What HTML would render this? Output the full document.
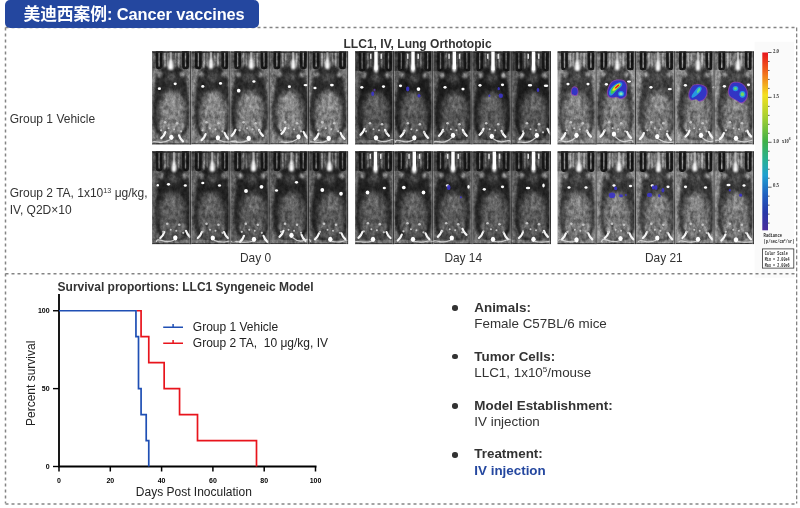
<!DOCTYPE html>
<html lang="zh"><head><meta charset="utf-8"><title>Cancer vaccines</title>
<style>
html,body{margin:0;padding:0;background:#fff;}
body{width:800px;height:508px;position:relative;overflow:hidden;font-family:"Liberation Sans","Noto Sans CJK SC",sans-serif;color:#333;}
.abs{position:absolute;white-space:nowrap;line-height:1;}
#tab{left:5px;top:0;width:254px;height:27.5px;background:#24479f;border-radius:5px;}
#tabt{left:23.5px;top:5.6px;color:#fff;font-weight:bold;font-size:16.8px;letter-spacing:-0.1px;}
svg.main{position:absolute;left:0;top:0;}
.tk{font:bold 7px "Liberation Sans",sans-serif;fill:#000;}
.cbt{font:bold 5.6px "Liberation Serif",serif;fill:#333;}
.cbs{font:bold 5.4px "Liberation Mono",monospace;fill:#2a2a2a;}
.lab{font-size:12px;color:#333;}
.b{font-weight:bold;}
sup{font-size:60%;vertical-align:baseline;position:relative;top:-0.62em;}
.dot{position:absolute;width:5.6px;height:5.6px;border-radius:50%;background:#333;}
</style></head><body>
<svg class="main" width="800" height="508" viewBox="0 0 800 508">
<defs>
<filter id="b05" x="-30%" y="-30%" width="160%" height="160%"><feGaussianBlur stdDeviation="0.55"/></filter>
<filter id="b07" x="-40%" y="-40%" width="180%" height="180%"><feGaussianBlur stdDeviation="0.7"/></filter>
<filter id="b08" x="-50%" y="-30%" width="200%" height="160%"><feGaussianBlur stdDeviation="0.75"/></filter>
<filter id="b1" x="-50%" y="-30%" width="200%" height="160%"><feGaussianBlur stdDeviation="1"/></filter>
<filter id="b15" x="-30%" y="-30%" width="160%" height="160%"><feGaussianBlur stdDeviation="1.3"/></filter>
<filter id="b2" x="-30%" y="-30%" width="160%" height="160%"><feGaussianBlur stdDeviation="1.6"/></filter>
<filter id="b3" x="-50%" y="-50%" width="200%" height="200%"><feGaussianBlur stdDeviation="2.6"/></filter>
<filter id="noiseO" x="0" y="0" width="100%" height="100%" color-interpolation-filters="sRGB"><feTurbulence type="fractalNoise" baseFrequency="0.3 0.22" numOctaves="3" seed="3" result="t"/><feColorMatrix in="t" type="matrix" values="0.55 0 0 0 0.215  0.55 0 0 0 0.215  0.55 0 0 0 0.215  0 0 0 0 1"/><feGaussianBlur stdDeviation="0.4"/></filter>
<linearGradient id="cb" x1="0" y1="0" x2="0" y2="1">
<stop offset="0" stop-color="#e8141c"/><stop offset="0.1" stop-color="#f0601a"/><stop offset="0.24" stop-color="#f4e020"/>
<stop offset="0.36" stop-color="#a8d030"/><stop offset="0.5" stop-color="#40b048"/><stop offset="0.6" stop-color="#28b090"/><stop offset="0.69" stop-color="#20a0d0"/>
<stop offset="0.8" stop-color="#2060c0"/><stop offset="0.9" stop-color="#2838a8"/><stop offset="1" stop-color="#4a2c9c"/>
</linearGradient>
</defs>
<rect x="754.6" y="41.8" width="39.4" height="236" fill="#fafafa"/>
<rect x="762.3" y="52.5" width="5.7" height="177.8" fill="url(#cb)"/>
<path d="M768 52.5 h3.6" stroke="#222" stroke-width="0.7"/>
<path d="M768 61.48 h1.6" stroke="#222" stroke-width="0.7"/>
<path d="M768 70.46 h1.6" stroke="#222" stroke-width="0.7"/>
<path d="M768 79.44 h1.6" stroke="#222" stroke-width="0.7"/>
<path d="M768 88.42 h1.6" stroke="#222" stroke-width="0.7"/>
<path d="M768 97.4 h3.6" stroke="#222" stroke-width="0.7"/>
<path d="M768 106.38 h1.6" stroke="#222" stroke-width="0.7"/>
<path d="M768 115.36 h1.6" stroke="#222" stroke-width="0.7"/>
<path d="M768 124.34 h1.6" stroke="#222" stroke-width="0.7"/>
<path d="M768 133.32 h1.6" stroke="#222" stroke-width="0.7"/>
<path d="M768 142.3 h3.6" stroke="#222" stroke-width="0.7"/>
<path d="M768 151.28 h1.6" stroke="#222" stroke-width="0.7"/>
<path d="M768 160.26 h1.6" stroke="#222" stroke-width="0.7"/>
<path d="M768 169.24 h1.6" stroke="#222" stroke-width="0.7"/>
<path d="M768 178.22 h1.6" stroke="#222" stroke-width="0.7"/>
<path d="M768 187.2 h3.6" stroke="#222" stroke-width="0.7"/>
<path d="M768 196.18 h1.6" stroke="#222" stroke-width="0.7"/>
<path d="M768 205.16 h1.6" stroke="#222" stroke-width="0.7"/>
<path d="M768 214.14 h1.6" stroke="#222" stroke-width="0.7"/>
<path d="M768 223.12 h1.6" stroke="#222" stroke-width="0.7"/>
<text x="773" y="52.7" class="cbt" textLength="6" lengthAdjust="spacingAndGlyphs">2.0</text>
<text x="773" y="97.6" class="cbt" textLength="6" lengthAdjust="spacingAndGlyphs">1.5</text>
<text x="773" y="142.5" class="cbt" textLength="6" lengthAdjust="spacingAndGlyphs">1.0</text>
<text x="773" y="187.4" class="cbt" textLength="6" lengthAdjust="spacingAndGlyphs">0.5</text>
<text x="782" y="142.9" class="cbt" textLength="8.6" lengthAdjust="spacingAndGlyphs">x10<tspan dy="-2.6" font-size="4.6">6</tspan></text>
<text x="763.6" y="237.2" class="cbs" textLength="18.4" lengthAdjust="spacingAndGlyphs">Radiance</text>
<text x="763.6" y="243" class="cbs" textLength="31" lengthAdjust="spacingAndGlyphs">(p/sec/cm<tspan dy="-1.6" font-size="3.6">2</tspan><tspan dy="1.6">/sr)</tspan></text>
<rect x="762.6" y="248.9" width="31.2" height="19.2" fill="#fff" stroke="#333" stroke-width="0.8"/>
<text x="764.8" y="254.9" class="cbs" textLength="23" lengthAdjust="spacingAndGlyphs">Color Scale</text>
<text x="764.8" y="260.8" class="cbs" textLength="24.8" lengthAdjust="spacingAndGlyphs">Min = 2.00e4</text>
<text x="764.8" y="266.7" class="cbs" textLength="24.8" lengthAdjust="spacingAndGlyphs">Max = 2.00e6</text>
<!-- borders -->
<g fill="none" stroke-dasharray="3 3">
<path d="M5.5 27.6 H796.5 M5.5 273.8 H796.5 M5.5 27.6 V503.5" stroke="#848484" stroke-width="1.5"/>
<path d="M5.5 504 H796.5" stroke="#a4a4a4" stroke-width="2"/>
<path d="M796.7 27.6 V503.5" stroke="#6e6e6e" stroke-width="1.1" stroke-dasharray="3.6 2.4"/>
</g>
<svg x="152" y="51.3" width="196.3" height="93.3" overflow="hidden">
<svg x="0" y="0" width="39.26" height="93.3" overflow="hidden">
<rect width="39.26" height="93.3" fill="#7a7a7a"/>
<rect width="39.26" height="17.3" fill="#5a5a5a"/>
<rect x="12" y="1" width="1.8" height="15.8" fill="#989898"/>
<rect x="15.2" y="1" width="1.4" height="15.8" fill="#808080"/>
<rect x="22.8" y="1" width="1.4" height="15.8" fill="#808080"/>
<rect x="25.8" y="1" width="1.8" height="15.8" fill="#989898"/>
<rect x="3.7" y="-4" width="6.8" height="21.9" rx="2.4" fill="#161616"/>
<rect x="6.4" y="1" width="1.4" height="14.5" rx="0.7" fill="#8e8e8e" opacity="0.85"/>
<rect x="30.1" y="-4" width="6.8" height="21.9" rx="2.4" fill="#161616"/>
<rect x="32.8" y="1" width="1.4" height="14.5" rx="0.7" fill="#8e8e8e" opacity="0.85"/>
<path d="M19.15 14.5 C29.15 14.5 33.16 18 34.66 29 C35.66 42 37.64 50 37.64 66 C37.64 80 31.15 89 19.15 89 C7.15 89 0.67 80 0.67 66 C0.67 50 2.65 42 3.65 29 C5.15 18 9.15 14.5 19.15 14.5Z" fill="#2c2c2c" filter="url(#b15)"/>
<g filter="url(#b3)">
<ellipse cx="20.42" cy="61" rx="13.5" ry="22" fill="#808080"/>
<ellipse cx="19.15" cy="26" rx="5" ry="4" fill="#5a5a5a"/>
</g>
<g filter="url(#b15)" fill="#929292" opacity="0.8">
<ellipse cx="10.15" cy="75" rx="4" ry="5"/>
<ellipse cx="28.15" cy="75" rx="4" ry="5"/>
<ellipse cx="20.42" cy="52" rx="6" ry="9"/>
<ellipse cx="19.15" cy="83" rx="11" ry="4.5" opacity="0.7"/>
</g>
<g filter="url(#b1)" fill="#9a9a9a">
<ellipse cx="7.65" cy="23" rx="2.3" ry="3"/>
<ellipse cx="30.65" cy="23" rx="2.3" ry="3"/>
</g>
<rect y="88.8" width="39.26" height="3.2" fill="#858585" opacity="0.5"/>
<rect y="92" width="39.26" height="1.3" fill="#3c3c3c"/>
<rect width="39.26" height="1.4" fill="#242424"/>
</svg>
<svg x="39.26" y="0" width="39.26" height="93.3" overflow="hidden">
<rect width="39.26" height="93.3" fill="#7a7a7a"/>
<rect width="39.26" height="17.3" fill="#5a5a5a"/>
<rect x="12" y="1" width="1.8" height="15.8" fill="#989898"/>
<rect x="15.2" y="1" width="1.4" height="15.8" fill="#808080"/>
<rect x="22.8" y="1" width="1.4" height="15.8" fill="#808080"/>
<rect x="25.8" y="1" width="1.8" height="15.8" fill="#989898"/>
<rect x="3.7" y="-4" width="6.8" height="21.9" rx="2.4" fill="#161616"/>
<rect x="6.4" y="1" width="1.4" height="14.5" rx="0.7" fill="#8e8e8e" opacity="0.85"/>
<rect x="30.1" y="-4" width="6.8" height="21.9" rx="2.4" fill="#161616"/>
<rect x="32.8" y="1" width="1.4" height="14.5" rx="0.7" fill="#8e8e8e" opacity="0.85"/>
<path d="M21.26 14.5 C31.26 14.5 35.26 18 36.76 29 C37.76 42 39.31 50 39.31 66 C39.31 80 33.26 89 21.26 89 C9.26 89 3.21 80 3.21 66 C3.21 50 4.76 42 5.76 29 C7.26 18 11.26 14.5 21.26 14.5Z" fill="#2c2c2c" filter="url(#b15)"/>
<g filter="url(#b3)">
<ellipse cx="22.37" cy="61" rx="13.5" ry="22" fill="#808080"/>
<ellipse cx="21.26" cy="26" rx="5" ry="4" fill="#5a5a5a"/>
</g>
<g filter="url(#b15)" fill="#929292" opacity="0.8">
<ellipse cx="12.26" cy="75" rx="4" ry="5"/>
<ellipse cx="30.26" cy="75" rx="4" ry="5"/>
<ellipse cx="22.37" cy="52" rx="6" ry="9"/>
<ellipse cx="21.26" cy="83" rx="11" ry="4.5" opacity="0.7"/>
</g>
<g filter="url(#b1)" fill="#9a9a9a">
<ellipse cx="9.76" cy="23" rx="2.3" ry="3"/>
<ellipse cx="32.76" cy="23" rx="2.3" ry="3"/>
</g>
<rect y="88.8" width="39.26" height="3.2" fill="#858585" opacity="0.5"/>
<rect y="92" width="39.26" height="1.3" fill="#3c3c3c"/>
<rect width="39.26" height="1.4" fill="#242424"/>
</svg>
<svg x="78.52" y="0" width="39.26" height="93.3" overflow="hidden">
<rect width="39.26" height="93.3" fill="#7a7a7a"/>
<rect width="39.26" height="17.3" fill="#5a5a5a"/>
<rect x="12" y="1" width="1.8" height="15.8" fill="#989898"/>
<rect x="15.2" y="1" width="1.4" height="15.8" fill="#808080"/>
<rect x="22.8" y="1" width="1.4" height="15.8" fill="#808080"/>
<rect x="25.8" y="1" width="1.8" height="15.8" fill="#989898"/>
<rect x="3.7" y="-4" width="6.8" height="21.9" rx="2.4" fill="#161616"/>
<rect x="6.4" y="1" width="1.4" height="14.5" rx="0.7" fill="#8e8e8e" opacity="0.85"/>
<rect x="30.1" y="-4" width="6.8" height="21.9" rx="2.4" fill="#161616"/>
<rect x="32.8" y="1" width="1.4" height="14.5" rx="0.7" fill="#8e8e8e" opacity="0.85"/>
<path d="M19.09 14.5 C29.09 14.5 33.09 18 34.59 29 C35.59 42 37.79 50 37.79 66 C37.79 80 31.09 89 19.09 89 C7.09 89 0.39 80 0.39 66 C0.39 50 2.59 42 3.59 29 C5.09 18 9.09 14.5 19.09 14.5Z" fill="#2c2c2c" filter="url(#b15)"/>
<g filter="url(#b3)">
<ellipse cx="19.89" cy="61" rx="13.5" ry="22" fill="#808080"/>
<ellipse cx="19.09" cy="26" rx="5" ry="4" fill="#5a5a5a"/>
</g>
<g filter="url(#b15)" fill="#929292" opacity="0.8">
<ellipse cx="10.09" cy="75" rx="4" ry="5"/>
<ellipse cx="28.09" cy="75" rx="4" ry="5"/>
<ellipse cx="19.89" cy="52" rx="6" ry="9"/>
<ellipse cx="19.09" cy="83" rx="11" ry="4.5" opacity="0.7"/>
</g>
<g filter="url(#b1)" fill="#9a9a9a">
<ellipse cx="7.59" cy="23" rx="2.3" ry="3"/>
<ellipse cx="30.59" cy="23" rx="2.3" ry="3"/>
</g>
<rect y="88.8" width="39.26" height="3.2" fill="#858585" opacity="0.5"/>
<rect y="92" width="39.26" height="1.3" fill="#3c3c3c"/>
<rect width="39.26" height="1.4" fill="#242424"/>
</svg>
<svg x="117.78" y="0" width="39.26" height="93.3" overflow="hidden">
<rect width="39.26" height="93.3" fill="#7a7a7a"/>
<rect width="39.26" height="17.3" fill="#5a5a5a"/>
<rect x="12" y="1" width="1.8" height="15.8" fill="#989898"/>
<rect x="15.2" y="1" width="1.4" height="15.8" fill="#808080"/>
<rect x="22.8" y="1" width="1.4" height="15.8" fill="#808080"/>
<rect x="25.8" y="1" width="1.8" height="15.8" fill="#989898"/>
<rect x="3.7" y="-4" width="6.8" height="21.9" rx="2.4" fill="#161616"/>
<rect x="6.4" y="1" width="1.4" height="14.5" rx="0.7" fill="#8e8e8e" opacity="0.85"/>
<rect x="30.1" y="-4" width="6.8" height="21.9" rx="2.4" fill="#161616"/>
<rect x="32.8" y="1" width="1.4" height="14.5" rx="0.7" fill="#8e8e8e" opacity="0.85"/>
<path d="M21.26 14.5 C31.26 14.5 35.26 18 36.76 29 C37.76 42 40.03 50 40.03 66 C40.03 80 33.26 89 21.26 89 C9.26 89 2.49 80 2.49 66 C2.49 50 4.76 42 5.76 29 C7.26 18 11.26 14.5 21.26 14.5Z" fill="#2c2c2c" filter="url(#b15)"/>
<g filter="url(#b3)">
<ellipse cx="19.78" cy="61" rx="13.5" ry="22" fill="#808080"/>
<ellipse cx="21.26" cy="26" rx="5" ry="4" fill="#5a5a5a"/>
</g>
<g filter="url(#b15)" fill="#929292" opacity="0.8">
<ellipse cx="12.26" cy="75" rx="4" ry="5"/>
<ellipse cx="30.26" cy="75" rx="4" ry="5"/>
<ellipse cx="19.78" cy="52" rx="6" ry="9"/>
<ellipse cx="21.26" cy="83" rx="11" ry="4.5" opacity="0.7"/>
</g>
<g filter="url(#b1)" fill="#9a9a9a">
<ellipse cx="9.76" cy="23" rx="2.3" ry="3"/>
<ellipse cx="32.76" cy="23" rx="2.3" ry="3"/>
</g>
<rect y="88.8" width="39.26" height="3.2" fill="#858585" opacity="0.5"/>
<rect y="92" width="39.26" height="1.3" fill="#3c3c3c"/>
<rect width="39.26" height="1.4" fill="#242424"/>
</svg>
<svg x="157.04" y="0" width="39.26" height="93.3" overflow="hidden">
<rect width="39.26" height="93.3" fill="#7a7a7a"/>
<rect width="39.26" height="17.3" fill="#5a5a5a"/>
<rect x="12" y="1" width="1.8" height="15.8" fill="#989898"/>
<rect x="15.2" y="1" width="1.4" height="15.8" fill="#808080"/>
<rect x="22.8" y="1" width="1.4" height="15.8" fill="#808080"/>
<rect x="25.8" y="1" width="1.8" height="15.8" fill="#989898"/>
<rect x="3.7" y="-4" width="6.8" height="21.9" rx="2.4" fill="#161616"/>
<rect x="6.4" y="1" width="1.4" height="14.5" rx="0.7" fill="#8e8e8e" opacity="0.85"/>
<rect x="30.1" y="-4" width="6.8" height="21.9" rx="2.4" fill="#161616"/>
<rect x="32.8" y="1" width="1.4" height="14.5" rx="0.7" fill="#8e8e8e" opacity="0.85"/>
<path d="M19.2 14.5 C29.2 14.5 33.2 18 34.7 29 C35.7 42 37.86 50 37.86 66 C37.86 80 31.2 89 19.2 89 C7.2 89 0.55 80 0.55 66 C0.55 50 2.7 42 3.7 29 C5.2 18 9.2 14.5 19.2 14.5Z" fill="#2c2c2c" filter="url(#b15)"/>
<g filter="url(#b3)">
<ellipse cx="19.58" cy="61" rx="13.5" ry="22" fill="#808080"/>
<ellipse cx="19.2" cy="26" rx="5" ry="4" fill="#5a5a5a"/>
</g>
<g filter="url(#b15)" fill="#929292" opacity="0.8">
<ellipse cx="10.2" cy="75" rx="4" ry="5"/>
<ellipse cx="28.2" cy="75" rx="4" ry="5"/>
<ellipse cx="19.58" cy="52" rx="6" ry="9"/>
<ellipse cx="19.2" cy="83" rx="11" ry="4.5" opacity="0.7"/>
</g>
<g filter="url(#b1)" fill="#9a9a9a">
<ellipse cx="7.7" cy="23" rx="2.3" ry="3"/>
<ellipse cx="30.7" cy="23" rx="2.3" ry="3"/>
</g>
<rect y="88.8" width="39.26" height="3.2" fill="#858585" opacity="0.5"/>
<rect y="92" width="39.26" height="1.3" fill="#3c3c3c"/>
<rect width="39.26" height="1.4" fill="#242424"/>
</svg>
<rect width="196.3" height="93.3" filter="url(#noiseO)" style="mix-blend-mode:overlay" opacity="0.9"/>
<svg x="0" y="0" width="39.26" height="93.3" overflow="visible"><rect x="17.6" y="1" width="2.2" height="10.19" fill="#c8c8c8" opacity="0.75" filter="url(#b05)"/>
<path d="M18.7 7.19 C19.9 9.19 21.67 13.63 21.47 16.63 C21.07 19.43 16.33 19.43 15.93 16.63 C15.73 13.63 17.5 9.19 18.7 7.19Z" fill="#fff" filter="url(#b1)"/>
<g filter="url(#b07)" fill="#fff">
<ellipse cx="7.4" cy="37.4" rx="1.6" ry="1.36"/>
<ellipse cx="23.2" cy="32.5" rx="1.6" ry="1.36"/>
<ellipse cx="19.4" cy="86" rx="2.2" ry="2.6"/>
<path d="M13.3 80.8 Q12.3 84.3 9.3 86.8" stroke="#f6f6f6" stroke-width="2.2" fill="none" stroke-linecap="round"/>
<path d="M27 84.1 Q28 87.6 31 90.1" stroke="#f6f6f6" stroke-width="2.2" fill="none" stroke-linecap="round"/>
<circle cx="13.15" cy="71" r="1.3" fill="#c4c4c4"/>
<circle cx="25.15" cy="72" r="1.3" fill="#c4c4c4"/>
<circle cx="16.65" cy="77" r="1" fill="#c4c4c4"/>
<circle cx="22.15" cy="78" r="1" fill="#c4c4c4"/>
<circle cx="9.15" cy="79" r="1.1" fill="#c4c4c4"/>
<circle cx="29.15" cy="80" r="1.1" fill="#c4c4c4"/>
</g>
<path d="M18.4 88.2 Q12.4 91.8 6.4 90.78 T0.4 91.1" fill="none" stroke="#dcdcdc" stroke-width="1.15" opacity="0.85" filter="url(#b05)"/>
<rect x="38.16" width="1.1" height="93.3" fill="#303030" opacity="0.85"/>
<rect x="37.26" width="0.9" height="93.3" fill="#9a9a9a" opacity="0.55"/>
<rect x="0" width="0.8" height="93.3" fill="#8c8c8c" opacity="0.35"/></svg>
<svg x="39.26" y="0" width="39.26" height="93.3" overflow="visible"><rect x="18.64" y="1" width="2.2" height="9.4" fill="#c8c8c8" opacity="0.75" filter="url(#b05)"/>
<path d="M19.74 6.4 C20.94 8.4 22.23 12.67 22.03 15.67 C21.63 18.47 17.85 18.47 17.45 15.67 C17.25 12.67 18.54 8.4 19.74 6.4Z" fill="#fff" filter="url(#b1)"/>
<g filter="url(#b07)" fill="#fff">
<ellipse cx="11.54" cy="35.1" rx="1.6" ry="1.36"/>
<ellipse cx="29.24" cy="32.1" rx="1.6" ry="1.36"/>
<ellipse cx="26.64" cy="86.5" rx="2.2" ry="2.6"/>
<path d="M14.34 82.8 Q13.34 86.3 10.34 88.8" stroke="#f6f6f6" stroke-width="2.2" fill="none" stroke-linecap="round"/>
<path d="M33.24 81.5 Q34.24 85 37.24 87.5" stroke="#f6f6f6" stroke-width="2.2" fill="none" stroke-linecap="round"/>
<circle cx="15.26" cy="71" r="1.3" fill="#c4c4c4"/>
<circle cx="27.26" cy="72" r="1.3" fill="#c4c4c4"/>
<circle cx="18.76" cy="77" r="1" fill="#c4c4c4"/>
<circle cx="24.26" cy="78" r="1" fill="#c4c4c4"/>
<circle cx="11.26" cy="79" r="1.1" fill="#c4c4c4"/>
<circle cx="31.26" cy="80" r="1.1" fill="#c4c4c4"/>
</g>
<path d="M27.64 88.7 Q33.64 91.8 39.64 90.19 T45.64 91.1" fill="none" stroke="#dcdcdc" stroke-width="1.15" opacity="0.85" filter="url(#b05)"/>
<rect x="38.16" width="1.1" height="93.3" fill="#303030" opacity="0.85"/>
<rect x="37.26" width="0.9" height="93.3" fill="#9a9a9a" opacity="0.55"/>
<rect x="0" width="0.8" height="93.3" fill="#8c8c8c" opacity="0.35"/></svg>
<svg x="78.52" y="0" width="39.26" height="93.3" overflow="visible"><rect x="19.68" y="1" width="2.2" height="9.02" fill="#c8c8c8" opacity="0.75" filter="url(#b05)"/>
<path d="M20.78 6.02 C21.98 8.02 23.35 12.88 23.15 15.88 C22.75 18.68 18.81 18.68 18.41 15.88 C18.21 12.88 19.58 8.02 20.78 6.02Z" fill="#fff" filter="url(#b1)"/>
<g filter="url(#b07)" fill="#fff">
<ellipse cx="8.18" cy="39.4" rx="1.84" ry="1.84"/>
<ellipse cx="23.38" cy="30.2" rx="1.6" ry="1.36"/>
<ellipse cx="18.18" cy="87.1" rx="2.2" ry="2.6"/>
<path d="M4.98 78.5 Q3.98 82 0.98 84.5" stroke="#f6f6f6" stroke-width="2.2" fill="none" stroke-linecap="round"/>
<path d="M28.48 78.5 Q29.48 82 32.48 84.5" stroke="#f6f6f6" stroke-width="2.2" fill="none" stroke-linecap="round"/>
<circle cx="13.09" cy="71" r="1.3" fill="#c4c4c4"/>
<circle cx="25.09" cy="72" r="1.3" fill="#c4c4c4"/>
<circle cx="16.59" cy="77" r="1" fill="#c4c4c4"/>
<circle cx="22.09" cy="78" r="1" fill="#c4c4c4"/>
<circle cx="9.09" cy="79" r="1.1" fill="#c4c4c4"/>
<circle cx="29.09" cy="80" r="1.1" fill="#c4c4c4"/>
</g>
<path d="M17.18 89.3 Q11.18 91.8 5.18 90.62 T-0.82 91.1" fill="none" stroke="#dcdcdc" stroke-width="1.15" opacity="0.85" filter="url(#b05)"/>
<rect x="38.16" width="1.1" height="93.3" fill="#303030" opacity="0.85"/>
<rect x="37.26" width="0.9" height="93.3" fill="#9a9a9a" opacity="0.55"/>
<rect x="0" width="0.8" height="93.3" fill="#8c8c8c" opacity="0.35"/></svg>
<svg x="117.78" y="0" width="39.26" height="93.3" overflow="visible"><rect x="22.42" y="1" width="2.2" height="9.99" fill="#c8c8c8" opacity="0.75" filter="url(#b05)"/>
<path d="M23.52 6.99 C24.72 8.99 26 13.18 25.8 16.18 C25.4 18.98 21.64 18.98 21.24 16.18 C21.04 13.18 22.32 8.99 23.52 6.99Z" fill="#fff" filter="url(#b1)"/>
<g filter="url(#b07)" fill="#fff">
<ellipse cx="19.62" cy="35.4" rx="1.6" ry="1.36"/>
<ellipse cx="35.82" cy="33.8" rx="2.08" ry="1.2"/>
<ellipse cx="28.72" cy="85.5" rx="2.2" ry="2.6"/>
<path d="M15.72 76.5 Q14.72 80 11.72 82.5" stroke="#f6f6f6" stroke-width="2.2" fill="none" stroke-linecap="round"/>
<path d="M33.72 80.5 Q34.72 84 37.72 86.5" stroke="#f6f6f6" stroke-width="2.2" fill="none" stroke-linecap="round"/>
<circle cx="15.26" cy="71" r="1.3" fill="#c4c4c4"/>
<circle cx="27.26" cy="72" r="1.3" fill="#c4c4c4"/>
<circle cx="18.76" cy="77" r="1" fill="#c4c4c4"/>
<circle cx="24.26" cy="78" r="1" fill="#c4c4c4"/>
<circle cx="11.26" cy="79" r="1.1" fill="#c4c4c4"/>
<circle cx="31.26" cy="80" r="1.1" fill="#c4c4c4"/>
</g>
<path d="M27.72 87.7 Q21.72 91.8 15.72 91.02 T9.72 91.1" fill="none" stroke="#dcdcdc" stroke-width="1.15" opacity="0.85" filter="url(#b05)"/>
<rect x="38.16" width="1.1" height="93.3" fill="#303030" opacity="0.85"/>
<rect x="37.26" width="0.9" height="93.3" fill="#9a9a9a" opacity="0.55"/>
<rect x="0" width="0.8" height="93.3" fill="#8c8c8c" opacity="0.35"/></svg>
<svg x="157.04" y="0" width="39.26" height="93.3" overflow="visible"><rect x="17.26" y="1" width="2.2" height="9.27" fill="#c8c8c8" opacity="0.75" filter="url(#b05)"/>
<path d="M18.36 6.27 C19.56 8.27 20.88 13.01 20.68 16.01 C20.28 18.81 16.44 18.81 16.04 16.01 C15.84 13.01 17.16 8.27 18.36 6.27Z" fill="#fff" filter="url(#b1)"/>
<g filter="url(#b07)" fill="#fff">
<ellipse cx="5.96" cy="36.7" rx="1.6" ry="1.36"/>
<ellipse cx="22.86" cy="33.8" rx="1.92" ry="1.28"/>
<ellipse cx="19.66" cy="87.1" rx="2.2" ry="2.6"/>
<path d="M9.46 82.3 Q8.46 85.8 5.46 88.3" stroke="#f6f6f6" stroke-width="2.2" fill="none" stroke-linecap="round"/>
<path d="M31.46 81.5 Q32.46 85 35.46 87.5" stroke="#f6f6f6" stroke-width="2.2" fill="none" stroke-linecap="round"/>
<circle cx="13.2" cy="71" r="1.3" fill="#c4c4c4"/>
<circle cx="25.2" cy="72" r="1.3" fill="#c4c4c4"/>
<circle cx="16.7" cy="77" r="1" fill="#c4c4c4"/>
<circle cx="22.2" cy="78" r="1" fill="#c4c4c4"/>
<circle cx="9.2" cy="79" r="1.1" fill="#c4c4c4"/>
<circle cx="29.2" cy="80" r="1.1" fill="#c4c4c4"/>
</g>
<path d="M18.66 89.3 Q12.66 91.8 6.66 90.98 T0.66 91.1" fill="none" stroke="#dcdcdc" stroke-width="1.15" opacity="0.85" filter="url(#b05)"/>
<rect x="38.16" width="1.1" height="93.3" fill="#303030" opacity="0.85"/>
<rect x="37.26" width="0.9" height="93.3" fill="#9a9a9a" opacity="0.55"/>
<rect x="0" width="0.8" height="93.3" fill="#8c8c8c" opacity="0.35"/></svg>
</svg>
<svg x="152" y="151.3" width="196.3" height="93" overflow="hidden">
<svg x="0" y="0" width="39.26" height="93" overflow="hidden">
<rect width="39.26" height="93" fill="#606060"/>
<rect width="39.26" height="19.3" fill="#484848"/>
<rect x="12" y="1" width="1.8" height="17.8" fill="#808080"/>
<rect x="15.2" y="1" width="1.4" height="17.8" fill="#686868"/>
<rect x="22.8" y="1" width="1.4" height="17.8" fill="#686868"/>
<rect x="25.8" y="1" width="1.8" height="17.8" fill="#808080"/>
<rect x="3.7" y="-4" width="6.8" height="23.9" rx="2.4" fill="#161616"/>
<rect x="6.4" y="1" width="1.4" height="16.5" rx="0.7" fill="#7a7a7a" opacity="0.85"/>
<rect x="30.1" y="-4" width="6.8" height="23.9" rx="2.4" fill="#161616"/>
<rect x="32.8" y="1" width="1.4" height="16.5" rx="0.7" fill="#7a7a7a" opacity="0.85"/>
<path d="M21.26 16 C31.26 16 35.26 19.5 36.76 30.5 C37.76 43.5 39.29 51.5 39.29 67.5 C39.29 81.5 33.26 90.5 21.26 90.5 C9.26 90.5 3.23 81.5 3.23 67.5 C3.23 51.5 4.76 43.5 5.76 30.5 C7.26 19.5 11.26 16 21.26 16Z" fill="#202020" filter="url(#b15)"/>
<g filter="url(#b3)">
<ellipse cx="20.26" cy="62.5" rx="13.5" ry="22" fill="#5a5a5a"/>
<ellipse cx="21.26" cy="27.5" rx="5" ry="4" fill="#5a5a5a"/>
</g>
<g filter="url(#b15)" fill="#6c6c6c" opacity="0.8">
<ellipse cx="12.26" cy="76.5" rx="4" ry="5"/>
<ellipse cx="30.26" cy="76.5" rx="4" ry="5"/>
<ellipse cx="20.26" cy="53.5" rx="6" ry="9"/>
<ellipse cx="21.26" cy="84.5" rx="11" ry="4.5" opacity="0.7"/>
</g>
<g filter="url(#b1)" fill="#9a9a9a">
<ellipse cx="9.76" cy="24.5" rx="2.3" ry="3"/>
<ellipse cx="32.76" cy="24.5" rx="2.3" ry="3"/>
</g>
<rect y="88.5" width="39.26" height="3.2" fill="#858585" opacity="0.5"/>
<rect y="91.7" width="39.26" height="1.3" fill="#3c3c3c"/>
<rect width="39.26" height="1.4" fill="#242424"/>
</svg>
<svg x="39.26" y="0" width="39.26" height="93" overflow="hidden">
<rect width="39.26" height="93" fill="#606060"/>
<rect width="39.26" height="19.3" fill="#484848"/>
<rect x="12" y="1" width="1.8" height="17.8" fill="#808080"/>
<rect x="15.2" y="1" width="1.4" height="17.8" fill="#686868"/>
<rect x="22.8" y="1" width="1.4" height="17.8" fill="#686868"/>
<rect x="25.8" y="1" width="1.8" height="17.8" fill="#808080"/>
<rect x="3.7" y="-4" width="6.8" height="23.9" rx="2.4" fill="#161616"/>
<rect x="6.4" y="1" width="1.4" height="16.5" rx="0.7" fill="#7a7a7a" opacity="0.85"/>
<rect x="30.1" y="-4" width="6.8" height="23.9" rx="2.4" fill="#161616"/>
<rect x="32.8" y="1" width="1.4" height="16.5" rx="0.7" fill="#7a7a7a" opacity="0.85"/>
<path d="M21.26 16 C31.26 16 35.26 19.5 36.76 30.5 C37.76 43.5 39.71 51.5 39.71 67.5 C39.71 81.5 33.26 90.5 21.26 90.5 C9.26 90.5 2.81 81.5 2.81 67.5 C2.81 51.5 4.76 43.5 5.76 30.5 C7.26 19.5 11.26 16 21.26 16Z" fill="#202020" filter="url(#b15)"/>
<g filter="url(#b3)">
<ellipse cx="19.96" cy="62.5" rx="13.5" ry="22" fill="#5a5a5a"/>
<ellipse cx="21.26" cy="27.5" rx="5" ry="4" fill="#5a5a5a"/>
</g>
<g filter="url(#b15)" fill="#6c6c6c" opacity="0.8">
<ellipse cx="12.26" cy="76.5" rx="4" ry="5"/>
<ellipse cx="30.26" cy="76.5" rx="4" ry="5"/>
<ellipse cx="19.96" cy="53.5" rx="6" ry="9"/>
<ellipse cx="21.26" cy="84.5" rx="11" ry="4.5" opacity="0.7"/>
</g>
<g filter="url(#b1)" fill="#9a9a9a">
<ellipse cx="9.76" cy="24.5" rx="2.3" ry="3"/>
<ellipse cx="32.76" cy="24.5" rx="2.3" ry="3"/>
</g>
<rect y="88.5" width="39.26" height="3.2" fill="#858585" opacity="0.5"/>
<rect y="91.7" width="39.26" height="1.3" fill="#3c3c3c"/>
<rect width="39.26" height="1.4" fill="#242424"/>
</svg>
<svg x="78.52" y="0" width="39.26" height="93" overflow="hidden">
<rect width="39.26" height="93" fill="#606060"/>
<rect width="39.26" height="19.3" fill="#484848"/>
<rect x="12" y="1" width="1.8" height="17.8" fill="#808080"/>
<rect x="15.2" y="1" width="1.4" height="17.8" fill="#686868"/>
<rect x="22.8" y="1" width="1.4" height="17.8" fill="#686868"/>
<rect x="25.8" y="1" width="1.8" height="17.8" fill="#808080"/>
<rect x="3.7" y="-4" width="6.8" height="23.9" rx="2.4" fill="#161616"/>
<rect x="6.4" y="1" width="1.4" height="16.5" rx="0.7" fill="#7a7a7a" opacity="0.85"/>
<rect x="30.1" y="-4" width="6.8" height="23.9" rx="2.4" fill="#161616"/>
<rect x="32.8" y="1" width="1.4" height="16.5" rx="0.7" fill="#7a7a7a" opacity="0.85"/>
<path d="M21.26 16 C31.26 16 35.26 19.5 36.76 30.5 C37.76 43.5 38.93 51.5 38.93 67.5 C38.93 81.5 33.26 90.5 21.26 90.5 C9.26 90.5 3.59 81.5 3.59 67.5 C3.59 51.5 4.76 43.5 5.76 30.5 C7.26 19.5 11.26 16 21.26 16Z" fill="#202020" filter="url(#b15)"/>
<g filter="url(#b3)">
<ellipse cx="22.69" cy="62.5" rx="13.5" ry="22" fill="#5a5a5a"/>
<ellipse cx="21.26" cy="27.5" rx="5" ry="4" fill="#5a5a5a"/>
</g>
<g filter="url(#b15)" fill="#6c6c6c" opacity="0.8">
<ellipse cx="12.26" cy="76.5" rx="4" ry="5"/>
<ellipse cx="30.26" cy="76.5" rx="4" ry="5"/>
<ellipse cx="22.69" cy="53.5" rx="6" ry="9"/>
<ellipse cx="21.26" cy="84.5" rx="11" ry="4.5" opacity="0.7"/>
</g>
<g filter="url(#b1)" fill="#9a9a9a">
<ellipse cx="9.76" cy="24.5" rx="2.3" ry="3"/>
<ellipse cx="32.76" cy="24.5" rx="2.3" ry="3"/>
</g>
<rect y="88.5" width="39.26" height="3.2" fill="#858585" opacity="0.5"/>
<rect y="91.7" width="39.26" height="1.3" fill="#3c3c3c"/>
<rect width="39.26" height="1.4" fill="#242424"/>
</svg>
<svg x="117.78" y="0" width="39.26" height="93" overflow="hidden">
<rect width="39.26" height="93" fill="#606060"/>
<rect width="39.26" height="19.3" fill="#484848"/>
<rect x="12" y="1" width="1.8" height="17.8" fill="#808080"/>
<rect x="15.2" y="1" width="1.4" height="17.8" fill="#686868"/>
<rect x="22.8" y="1" width="1.4" height="17.8" fill="#686868"/>
<rect x="25.8" y="1" width="1.8" height="17.8" fill="#808080"/>
<rect x="3.7" y="-4" width="6.8" height="23.9" rx="2.4" fill="#161616"/>
<rect x="6.4" y="1" width="1.4" height="16.5" rx="0.7" fill="#7a7a7a" opacity="0.85"/>
<rect x="30.1" y="-4" width="6.8" height="23.9" rx="2.4" fill="#161616"/>
<rect x="32.8" y="1" width="1.4" height="16.5" rx="0.7" fill="#7a7a7a" opacity="0.85"/>
<path d="M21.26 16 C31.26 16 35.26 19.5 36.76 30.5 C37.76 43.5 39.31 51.5 39.31 67.5 C39.31 81.5 33.26 90.5 21.26 90.5 C9.26 90.5 3.21 81.5 3.21 67.5 C3.21 51.5 4.76 43.5 5.76 30.5 C7.26 19.5 11.26 16 21.26 16Z" fill="#202020" filter="url(#b15)"/>
<g filter="url(#b3)">
<ellipse cx="22.28" cy="62.5" rx="13.5" ry="22" fill="#5a5a5a"/>
<ellipse cx="21.26" cy="27.5" rx="5" ry="4" fill="#5a5a5a"/>
</g>
<g filter="url(#b15)" fill="#6c6c6c" opacity="0.8">
<ellipse cx="12.26" cy="76.5" rx="4" ry="5"/>
<ellipse cx="30.26" cy="76.5" rx="4" ry="5"/>
<ellipse cx="22.28" cy="53.5" rx="6" ry="9"/>
<ellipse cx="21.26" cy="84.5" rx="11" ry="4.5" opacity="0.7"/>
</g>
<g filter="url(#b1)" fill="#9a9a9a">
<ellipse cx="9.76" cy="24.5" rx="2.3" ry="3"/>
<ellipse cx="32.76" cy="24.5" rx="2.3" ry="3"/>
</g>
<rect y="88.5" width="39.26" height="3.2" fill="#858585" opacity="0.5"/>
<rect y="91.7" width="39.26" height="1.3" fill="#3c3c3c"/>
<rect width="39.26" height="1.4" fill="#242424"/>
</svg>
<svg x="157.04" y="0" width="39.26" height="93" overflow="hidden">
<rect width="39.26" height="93" fill="#606060"/>
<rect width="39.26" height="19.3" fill="#484848"/>
<rect x="12" y="1" width="1.8" height="17.8" fill="#808080"/>
<rect x="15.2" y="1" width="1.4" height="17.8" fill="#686868"/>
<rect x="22.8" y="1" width="1.4" height="17.8" fill="#686868"/>
<rect x="25.8" y="1" width="1.8" height="17.8" fill="#808080"/>
<rect x="3.7" y="-4" width="6.8" height="23.9" rx="2.4" fill="#161616"/>
<rect x="6.4" y="1" width="1.4" height="16.5" rx="0.7" fill="#7a7a7a" opacity="0.85"/>
<rect x="30.1" y="-4" width="6.8" height="23.9" rx="2.4" fill="#161616"/>
<rect x="32.8" y="1" width="1.4" height="16.5" rx="0.7" fill="#7a7a7a" opacity="0.85"/>
<path d="M20.98 16 C30.98 16 34.98 19.5 36.48 30.5 C37.48 43.5 39.7 51.5 39.7 67.5 C39.7 81.5 32.98 90.5 20.98 90.5 C8.98 90.5 2.26 81.5 2.26 67.5 C2.26 51.5 4.48 43.5 5.48 30.5 C6.98 19.5 10.98 16 20.98 16Z" fill="#202020" filter="url(#b15)"/>
<g filter="url(#b3)">
<ellipse cx="22.31" cy="62.5" rx="13.5" ry="22" fill="#5a5a5a"/>
<ellipse cx="20.98" cy="27.5" rx="5" ry="4" fill="#5a5a5a"/>
</g>
<g filter="url(#b15)" fill="#6c6c6c" opacity="0.8">
<ellipse cx="11.98" cy="76.5" rx="4" ry="5"/>
<ellipse cx="29.98" cy="76.5" rx="4" ry="5"/>
<ellipse cx="22.31" cy="53.5" rx="6" ry="9"/>
<ellipse cx="20.98" cy="84.5" rx="11" ry="4.5" opacity="0.7"/>
</g>
<g filter="url(#b1)" fill="#9a9a9a">
<ellipse cx="9.48" cy="24.5" rx="2.3" ry="3"/>
<ellipse cx="32.48" cy="24.5" rx="2.3" ry="3"/>
</g>
<rect y="88.5" width="39.26" height="3.2" fill="#858585" opacity="0.5"/>
<rect y="91.7" width="39.26" height="1.3" fill="#3c3c3c"/>
<rect width="39.26" height="1.4" fill="#242424"/>
</svg>
<rect width="196.3" height="93" filter="url(#noiseO)" style="mix-blend-mode:overlay" opacity="0.9"/>
<svg x="0" y="0" width="39.26" height="93" overflow="visible"><rect x="20.9" y="1" width="2.2" height="12.55" fill="#c8c8c8" opacity="0.75" filter="url(#b05)"/>
<path d="M22 9.55 C23.2 11.55 24.58 15.76 24.38 18.76 C23.98 21.56 20.02 21.56 19.62 18.76 C19.42 15.76 20.8 11.55 22 9.55Z" fill="#fff" filter="url(#b1)"/>
<g filter="url(#b07)" fill="#fff">
<ellipse cx="16.5" cy="33" rx="1.6" ry="1.36"/>
<ellipse cx="33.3" cy="34.2" rx="1.6" ry="1.36"/>
<ellipse cx="5.8" cy="34" rx="1.2" ry="1.2"/>
<ellipse cx="23.3" cy="86.5" rx="2.2" ry="2.6"/>
<path d="M12.3 80.7 Q11.3 84.2 8.3 86.7" stroke="#f6f6f6" stroke-width="2.2" fill="none" stroke-linecap="round"/>
<path d="M34 79.5 Q35 83 38 85.5" stroke="#f6f6f6" stroke-width="2.2" fill="none" stroke-linecap="round"/>
<circle cx="15.26" cy="72.5" r="1.3" fill="#c4c4c4"/>
<circle cx="27.26" cy="73.5" r="1.3" fill="#c4c4c4"/>
<circle cx="18.76" cy="78.5" r="1" fill="#c4c4c4"/>
<circle cx="24.26" cy="79.5" r="1" fill="#c4c4c4"/>
<circle cx="11.26" cy="80.5" r="1.1" fill="#c4c4c4"/>
<circle cx="31.26" cy="81.5" r="1.1" fill="#c4c4c4"/>
</g>
<path d="M22.3 88.7 Q16.3 91.5 10.3 89.33 T4.3 90.8" fill="none" stroke="#dcdcdc" stroke-width="1.15" opacity="0.85" filter="url(#b05)"/>
<rect x="38.16" width="1.1" height="93" fill="#303030" opacity="0.85"/>
<rect x="37.26" width="0.9" height="93" fill="#9a9a9a" opacity="0.55"/>
<rect x="0" width="0.8" height="93" fill="#8c8c8c" opacity="0.35"/></svg>
<svg x="39.26" y="0" width="39.26" height="93" overflow="visible"><rect x="19.94" y="1" width="2.2" height="12.31" fill="#c8c8c8" opacity="0.75" filter="url(#b05)"/>
<path d="M21.04 9.31 C22.24 11.31 23.8 15.36 23.6 18.36 C23.2 21.16 18.88 21.16 18.48 18.36 C18.28 15.36 19.84 11.31 21.04 9.31Z" fill="#fff" filter="url(#b1)"/>
<g filter="url(#b07)" fill="#fff">
<ellipse cx="11.54" cy="31.7" rx="1.6" ry="1.36"/>
<ellipse cx="28.24" cy="34.2" rx="1.6" ry="1.36"/>
<ellipse cx="21.54" cy="86.7" rx="2.2" ry="2.6"/>
<path d="M10.54 80.7 Q9.54 84.2 6.54 86.7" stroke="#f6f6f6" stroke-width="2.2" fill="none" stroke-linecap="round"/>
<path d="M32.74 80.7 Q33.74 84.2 36.74 86.7" stroke="#f6f6f6" stroke-width="2.2" fill="none" stroke-linecap="round"/>
<circle cx="15.26" cy="72.5" r="1.3" fill="#c4c4c4"/>
<circle cx="27.26" cy="73.5" r="1.3" fill="#c4c4c4"/>
<circle cx="18.76" cy="78.5" r="1" fill="#c4c4c4"/>
<circle cx="24.26" cy="79.5" r="1" fill="#c4c4c4"/>
<circle cx="11.26" cy="80.5" r="1.1" fill="#c4c4c4"/>
<circle cx="31.26" cy="81.5" r="1.1" fill="#c4c4c4"/>
</g>
<path d="M22.54 88.9 Q28.54 91.5 34.54 90.44 T40.54 90.8" fill="none" stroke="#dcdcdc" stroke-width="1.15" opacity="0.85" filter="url(#b05)"/>
<rect x="38.16" width="1.1" height="93" fill="#303030" opacity="0.85"/>
<rect x="37.26" width="0.9" height="93" fill="#9a9a9a" opacity="0.55"/>
<rect x="0" width="0.8" height="93" fill="#8c8c8c" opacity="0.35"/></svg>
<svg x="78.52" y="0" width="39.26" height="93" overflow="visible"><rect x="21.88" y="1" width="2.2" height="11.51" fill="#c8c8c8" opacity="0.75" filter="url(#b05)"/>
<path d="M22.98 8.51 C24.18 10.51 25.8 15.23 25.6 18.23 C25.2 21.03 20.76 21.03 20.36 18.23 C20.16 15.23 21.78 10.51 22.98 8.51Z" fill="#fff" filter="url(#b1)"/>
<g filter="url(#b07)" fill="#fff">
<ellipse cx="15.48" cy="39.7" rx="1.92" ry="1.92"/>
<ellipse cx="30.98" cy="35.5" rx="1.92" ry="1.92"/>
<ellipse cx="23.48" cy="88" rx="2.2" ry="2.6"/>
<path d="M13.48 84.5 Q12.48 88 9.48 90.5" stroke="#f6f6f6" stroke-width="2.2" fill="none" stroke-linecap="round"/>
<path d="M32.98 84.5 Q33.98 88 36.98 90.5" stroke="#f6f6f6" stroke-width="2.2" fill="none" stroke-linecap="round"/>
<circle cx="15.26" cy="72.5" r="1.3" fill="#c4c4c4"/>
<circle cx="27.26" cy="73.5" r="1.3" fill="#c4c4c4"/>
<circle cx="18.76" cy="78.5" r="1" fill="#c4c4c4"/>
<circle cx="24.26" cy="79.5" r="1" fill="#c4c4c4"/>
<circle cx="11.26" cy="80.5" r="1.1" fill="#c4c4c4"/>
<circle cx="31.26" cy="81.5" r="1.1" fill="#c4c4c4"/>
</g>
<path d="M22.48 90 Q16.48 91.5 10.48 90.7 T4.48 90.8" fill="none" stroke="#dcdcdc" stroke-width="1.15" opacity="0.85" filter="url(#b05)"/>
<rect x="38.16" width="1.1" height="93" fill="#303030" opacity="0.85"/>
<rect x="37.26" width="0.9" height="93" fill="#9a9a9a" opacity="0.55"/>
<rect x="0" width="0.8" height="93" fill="#8c8c8c" opacity="0.35"/></svg>
<svg x="117.78" y="0" width="39.26" height="93" overflow="visible"><rect x="20.62" y="1" width="2.2" height="11.65" fill="#c8c8c8" opacity="0.75" filter="url(#b05)"/>
<path d="M21.72 8.65 C22.92 10.65 24.37 15.31 24.17 18.31 C23.77 21.11 19.67 21.11 19.27 18.31 C19.07 15.31 20.52 10.65 21.72 8.65Z" fill="#fff" filter="url(#b1)"/>
<g filter="url(#b07)" fill="#fff">
<ellipse cx="6.72" cy="39.2" rx="1.6" ry="1.36"/>
<ellipse cx="26.72" cy="31" rx="1.6" ry="1.36"/>
<ellipse cx="21.72" cy="84" rx="2.2" ry="2.6"/>
<path d="M13.72 79.5 Q12.72 83 9.72 85.5" stroke="#f6f6f6" stroke-width="2.2" fill="none" stroke-linecap="round"/>
<path d="M31.72 83.5 Q32.72 87 35.72 89.5" stroke="#f6f6f6" stroke-width="2.2" fill="none" stroke-linecap="round"/>
<circle cx="15.26" cy="72.5" r="1.3" fill="#c4c4c4"/>
<circle cx="27.26" cy="73.5" r="1.3" fill="#c4c4c4"/>
<circle cx="18.76" cy="78.5" r="1" fill="#c4c4c4"/>
<circle cx="24.26" cy="79.5" r="1" fill="#c4c4c4"/>
<circle cx="11.26" cy="80.5" r="1.1" fill="#c4c4c4"/>
<circle cx="31.26" cy="81.5" r="1.1" fill="#c4c4c4"/>
</g>
<path d="M22.72 86.2 Q28.72 91.5 34.72 88.89 T40.72 90.8" fill="none" stroke="#dcdcdc" stroke-width="1.15" opacity="0.85" filter="url(#b05)"/>
<rect x="38.16" width="1.1" height="93" fill="#303030" opacity="0.85"/>
<rect x="37.26" width="0.9" height="93" fill="#9a9a9a" opacity="0.55"/>
<rect x="0" width="0.8" height="93" fill="#8c8c8c" opacity="0.35"/></svg>
<svg x="157.04" y="0" width="39.26" height="93" overflow="visible"><rect x="19.36" y="1" width="2.2" height="12.53" fill="#c8c8c8" opacity="0.75" filter="url(#b05)"/>
<path d="M20.46 9.53 C21.66 11.53 23.31 14.86 23.11 17.86 C22.71 20.66 18.21 20.66 17.81 17.86 C17.61 14.86 19.26 11.53 20.46 9.53Z" fill="#fff" filter="url(#b1)"/>
<g filter="url(#b07)" fill="#fff">
<ellipse cx="13.26" cy="38.7" rx="1.92" ry="1.92"/>
<ellipse cx="31.96" cy="42.5" rx="1.84" ry="2"/>
<ellipse cx="21.26" cy="88" rx="2.2" ry="2.6"/>
<path d="M9.96 82 Q8.96 85.5 5.96 88" stroke="#f6f6f6" stroke-width="2.2" fill="none" stroke-linecap="round"/>
<path d="M32.46 82 Q33.46 85.5 36.46 88" stroke="#f6f6f6" stroke-width="2.2" fill="none" stroke-linecap="round"/>
<circle cx="14.98" cy="72.5" r="1.3" fill="#c4c4c4"/>
<circle cx="26.98" cy="73.5" r="1.3" fill="#c4c4c4"/>
<circle cx="18.48" cy="78.5" r="1" fill="#c4c4c4"/>
<circle cx="23.98" cy="79.5" r="1" fill="#c4c4c4"/>
<circle cx="10.98" cy="80.5" r="1.1" fill="#c4c4c4"/>
<circle cx="30.98" cy="81.5" r="1.1" fill="#c4c4c4"/>
</g>
<path d="M22.26 90 Q28.26 91.5 34.26 89.82 T40.26 90.8" fill="none" stroke="#dcdcdc" stroke-width="1.15" opacity="0.85" filter="url(#b05)"/>
<rect x="38.16" width="1.1" height="93" fill="#303030" opacity="0.85"/>
<rect x="37.26" width="0.9" height="93" fill="#9a9a9a" opacity="0.55"/>
<rect x="0" width="0.8" height="93" fill="#8c8c8c" opacity="0.35"/></svg>
</svg>
<svg x="355" y="51.3" width="196" height="93.3" overflow="hidden">
<svg x="0" y="0" width="39.2" height="93.3" overflow="hidden">
<rect width="39.2" height="93.3" fill="#5c5c5c"/>
<rect width="39.2" height="19.5" fill="#3c3c3c"/>
<rect x="12" y="1" width="1.8" height="18" fill="#6a6a6a"/>
<rect x="15.2" y="1" width="1.4" height="18" fill="#585858"/>
<rect x="22.8" y="1" width="1.4" height="18" fill="#585858"/>
<rect x="25.8" y="1" width="1.8" height="18" fill="#6a6a6a"/>
<rect x="3.7" y="-4" width="6.8" height="24.1" rx="2.4" fill="#161616"/>
<rect x="6.4" y="1" width="1.4" height="16.7" rx="0.7" fill="#707070" opacity="0.85"/>
<rect x="30.1" y="-4" width="6.8" height="24.1" rx="2.4" fill="#161616"/>
<rect x="32.8" y="1" width="1.4" height="16.7" rx="0.7" fill="#707070" opacity="0.85"/>
<path d="M21 15.5 C31 15.5 35 19 36.5 30 C37.5 43 39.54 51 39.54 67 C39.54 81 33 90 21 90 C9 90 2.46 81 2.46 67 C2.46 51 4.5 43 5.5 30 C7 19 11 15.5 21 15.5Z" fill="#1e1e1e" filter="url(#b15)"/>
<g filter="url(#b3)">
<ellipse cx="20.6" cy="62" rx="13.5" ry="22" fill="#565656"/>
<ellipse cx="21" cy="27" rx="5" ry="4" fill="#5a5a5a"/>
</g>
<g filter="url(#b15)" fill="#686868" opacity="0.8">
<ellipse cx="12" cy="76" rx="4" ry="5"/>
<ellipse cx="30" cy="76" rx="4" ry="5"/>
<ellipse cx="20.6" cy="53" rx="6" ry="9"/>
<ellipse cx="21" cy="84" rx="11" ry="4.5" opacity="0.7"/>
</g>
<g filter="url(#b1)" fill="#9a9a9a">
<ellipse cx="9.5" cy="24" rx="2.3" ry="3"/>
<ellipse cx="32.5" cy="24" rx="2.3" ry="3"/>
</g>
<rect y="88.8" width="39.2" height="3.2" fill="#858585" opacity="0.5"/>
<rect y="92" width="39.2" height="1.3" fill="#3c3c3c"/>
<rect width="39.2" height="1.4" fill="#242424"/>
</svg>
<svg x="39.2" y="0" width="39.2" height="93.3" overflow="hidden">
<rect width="39.2" height="93.3" fill="#5c5c5c"/>
<rect width="39.2" height="19.5" fill="#3c3c3c"/>
<rect x="12" y="1" width="1.8" height="18" fill="#6a6a6a"/>
<rect x="15.2" y="1" width="1.4" height="18" fill="#585858"/>
<rect x="22.8" y="1" width="1.4" height="18" fill="#585858"/>
<rect x="25.8" y="1" width="1.8" height="18" fill="#6a6a6a"/>
<rect x="3.7" y="-4" width="6.8" height="24.1" rx="2.4" fill="#161616"/>
<rect x="6.4" y="1" width="1.4" height="16.7" rx="0.7" fill="#707070" opacity="0.85"/>
<rect x="30.1" y="-4" width="6.8" height="24.1" rx="2.4" fill="#161616"/>
<rect x="32.8" y="1" width="1.4" height="16.7" rx="0.7" fill="#707070" opacity="0.85"/>
<path d="M19.64 15.5 C29.64 15.5 33.64 19 35.14 30 C36.14 43 38.35 51 38.35 67 C38.35 81 31.64 90 19.64 90 C7.64 90 0.94 81 0.94 67 C0.94 51 3.14 43 4.14 30 C5.64 19 9.64 15.5 19.64 15.5Z" fill="#1e1e1e" filter="url(#b15)"/>
<g filter="url(#b3)">
<ellipse cx="19.16" cy="62" rx="13.5" ry="22" fill="#565656"/>
<ellipse cx="19.64" cy="27" rx="5" ry="4" fill="#5a5a5a"/>
</g>
<g filter="url(#b15)" fill="#686868" opacity="0.8">
<ellipse cx="10.64" cy="76" rx="4" ry="5"/>
<ellipse cx="28.64" cy="76" rx="4" ry="5"/>
<ellipse cx="19.16" cy="53" rx="6" ry="9"/>
<ellipse cx="19.64" cy="84" rx="11" ry="4.5" opacity="0.7"/>
</g>
<g filter="url(#b1)" fill="#9a9a9a">
<ellipse cx="8.14" cy="24" rx="2.3" ry="3"/>
<ellipse cx="31.14" cy="24" rx="2.3" ry="3"/>
</g>
<rect y="88.8" width="39.2" height="3.2" fill="#858585" opacity="0.5"/>
<rect y="92" width="39.2" height="1.3" fill="#3c3c3c"/>
<rect width="39.2" height="1.4" fill="#242424"/>
</svg>
<svg x="78.4" y="0" width="39.2" height="93.3" overflow="hidden">
<rect width="39.2" height="93.3" fill="#5c5c5c"/>
<rect width="39.2" height="19.5" fill="#3c3c3c"/>
<rect x="12" y="1" width="1.8" height="18" fill="#6a6a6a"/>
<rect x="15.2" y="1" width="1.4" height="18" fill="#585858"/>
<rect x="22.8" y="1" width="1.4" height="18" fill="#585858"/>
<rect x="25.8" y="1" width="1.8" height="18" fill="#6a6a6a"/>
<rect x="3.7" y="-4" width="6.8" height="24.1" rx="2.4" fill="#161616"/>
<rect x="6.4" y="1" width="1.4" height="16.7" rx="0.7" fill="#707070" opacity="0.85"/>
<rect x="30.1" y="-4" width="6.8" height="24.1" rx="2.4" fill="#161616"/>
<rect x="32.8" y="1" width="1.4" height="16.7" rx="0.7" fill="#707070" opacity="0.85"/>
<path d="M20.05 15.5 C30.05 15.5 34.05 19 35.55 30 C36.55 43 38.48 51 38.48 67 C38.48 81 32.05 90 20.05 90 C8.05 90 1.63 81 1.63 67 C1.63 51 3.55 43 4.55 30 C6.05 19 10.05 15.5 20.05 15.5Z" fill="#1e1e1e" filter="url(#b15)"/>
<g filter="url(#b3)">
<ellipse cx="21.55" cy="62" rx="13.5" ry="22" fill="#565656"/>
<ellipse cx="20.05" cy="27" rx="5" ry="4" fill="#5a5a5a"/>
</g>
<g filter="url(#b15)" fill="#686868" opacity="0.8">
<ellipse cx="11.05" cy="76" rx="4" ry="5"/>
<ellipse cx="29.05" cy="76" rx="4" ry="5"/>
<ellipse cx="21.55" cy="53" rx="6" ry="9"/>
<ellipse cx="20.05" cy="84" rx="11" ry="4.5" opacity="0.7"/>
</g>
<g filter="url(#b1)" fill="#9a9a9a">
<ellipse cx="8.55" cy="24" rx="2.3" ry="3"/>
<ellipse cx="31.55" cy="24" rx="2.3" ry="3"/>
</g>
<rect y="88.8" width="39.2" height="3.2" fill="#858585" opacity="0.5"/>
<rect y="92" width="39.2" height="1.3" fill="#3c3c3c"/>
<rect width="39.2" height="1.4" fill="#242424"/>
</svg>
<svg x="117.6" y="0" width="39.2" height="93.3" overflow="hidden">
<rect width="39.2" height="93.3" fill="#5c5c5c"/>
<rect width="39.2" height="19.5" fill="#3c3c3c"/>
<rect x="12" y="1" width="1.8" height="18" fill="#6a6a6a"/>
<rect x="15.2" y="1" width="1.4" height="18" fill="#585858"/>
<rect x="22.8" y="1" width="1.4" height="18" fill="#585858"/>
<rect x="25.8" y="1" width="1.8" height="18" fill="#6a6a6a"/>
<rect x="3.7" y="-4" width="6.8" height="24.1" rx="2.4" fill="#161616"/>
<rect x="6.4" y="1" width="1.4" height="16.7" rx="0.7" fill="#707070" opacity="0.85"/>
<rect x="30.1" y="-4" width="6.8" height="24.1" rx="2.4" fill="#161616"/>
<rect x="32.8" y="1" width="1.4" height="16.7" rx="0.7" fill="#707070" opacity="0.85"/>
<path d="M19.62 15.5 C29.62 15.5 33.62 19 35.12 30 C36.12 43 38.11 51 38.11 67 C38.11 81 31.62 90 19.62 90 C7.62 90 1.13 81 1.13 67 C1.13 51 3.12 43 4.12 30 C5.62 19 9.62 15.5 19.62 15.5Z" fill="#1e1e1e" filter="url(#b15)"/>
<g filter="url(#b3)">
<ellipse cx="19.15" cy="62" rx="13.5" ry="22" fill="#565656"/>
<ellipse cx="19.62" cy="27" rx="5" ry="4" fill="#5a5a5a"/>
</g>
<g filter="url(#b15)" fill="#686868" opacity="0.8">
<ellipse cx="10.62" cy="76" rx="4" ry="5"/>
<ellipse cx="28.62" cy="76" rx="4" ry="5"/>
<ellipse cx="19.15" cy="53" rx="6" ry="9"/>
<ellipse cx="19.62" cy="84" rx="11" ry="4.5" opacity="0.7"/>
</g>
<g filter="url(#b1)" fill="#9a9a9a">
<ellipse cx="8.12" cy="24" rx="2.3" ry="3"/>
<ellipse cx="31.12" cy="24" rx="2.3" ry="3"/>
</g>
<rect y="88.8" width="39.2" height="3.2" fill="#858585" opacity="0.5"/>
<rect y="92" width="39.2" height="1.3" fill="#3c3c3c"/>
<rect width="39.2" height="1.4" fill="#242424"/>
</svg>
<svg x="156.8" y="0" width="39.2" height="93.3" overflow="hidden">
<rect width="39.2" height="93.3" fill="#5c5c5c"/>
<rect width="39.2" height="19.5" fill="#3c3c3c"/>
<rect x="12" y="1" width="1.8" height="18" fill="#6a6a6a"/>
<rect x="15.2" y="1" width="1.4" height="18" fill="#585858"/>
<rect x="22.8" y="1" width="1.4" height="18" fill="#585858"/>
<rect x="25.8" y="1" width="1.8" height="18" fill="#6a6a6a"/>
<rect x="3.7" y="-4" width="6.8" height="24.1" rx="2.4" fill="#161616"/>
<rect x="6.4" y="1" width="1.4" height="16.7" rx="0.7" fill="#707070" opacity="0.85"/>
<rect x="30.1" y="-4" width="6.8" height="24.1" rx="2.4" fill="#161616"/>
<rect x="32.8" y="1" width="1.4" height="16.7" rx="0.7" fill="#707070" opacity="0.85"/>
<path d="M21.2 15.5 C31.2 15.5 35.2 19 36.7 30 C37.7 43 39.39 51 39.39 67 C39.39 81 33.2 90 21.2 90 C9.2 90 3.01 81 3.01 67 C3.01 51 4.7 43 5.7 30 C7.2 19 11.2 15.5 21.2 15.5Z" fill="#1e1e1e" filter="url(#b15)"/>
<g filter="url(#b3)">
<ellipse cx="22.22" cy="62" rx="13.5" ry="22" fill="#565656"/>
<ellipse cx="21.2" cy="27" rx="5" ry="4" fill="#5a5a5a"/>
</g>
<g filter="url(#b15)" fill="#686868" opacity="0.8">
<ellipse cx="12.2" cy="76" rx="4" ry="5"/>
<ellipse cx="30.2" cy="76" rx="4" ry="5"/>
<ellipse cx="22.22" cy="53" rx="6" ry="9"/>
<ellipse cx="21.2" cy="84" rx="11" ry="4.5" opacity="0.7"/>
</g>
<g filter="url(#b1)" fill="#9a9a9a">
<ellipse cx="9.7" cy="24" rx="2.3" ry="3"/>
<ellipse cx="32.7" cy="24" rx="2.3" ry="3"/>
</g>
<rect y="88.8" width="39.2" height="3.2" fill="#858585" opacity="0.5"/>
<rect y="92" width="39.2" height="1.3" fill="#3c3c3c"/>
<rect width="39.2" height="1.4" fill="#242424"/>
</svg>
<rect width="196" height="93.3" filter="url(#noiseO)" style="mix-blend-mode:overlay" opacity="0.9"/>
<svg x="0" y="0" width="39.2" height="93.3" overflow="visible"><rect x="19.3" y="0" width="3.4" height="18.4" fill="#fff" filter="url(#b05)"/>
<rect x="15" y="2.5" width="1.5" height="5" fill="#e4e4e4" filter="url(#b05)"/>
<rect x="25.5" y="2.5" width="1.5" height="5" fill="#e4e4e4" filter="url(#b05)"/>
<ellipse cx="21" cy="17.4" rx="2.15" ry="4" fill="#fff" filter="url(#b1)"/>
<g filter="url(#b07)" fill="#fff">
<ellipse cx="6.8" cy="36" rx="1.6" ry="1.36"/>
<ellipse cx="28.5" cy="35.3" rx="1.6" ry="1.36"/>
<ellipse cx="21" cy="86.5" rx="2.2" ry="2.6"/>
<path d="M9.5 77.5 Q8.5 81 5.5 83.5" stroke="#f6f6f6" stroke-width="2.2" fill="none" stroke-linecap="round"/>
<path d="M30 78.5 Q31 82 34 84.5" stroke="#f6f6f6" stroke-width="2.2" fill="none" stroke-linecap="round"/>
<circle cx="15" cy="72" r="1.3" fill="#c4c4c4"/>
<circle cx="27" cy="73" r="1.3" fill="#c4c4c4"/>
<circle cx="18.5" cy="78" r="1" fill="#c4c4c4"/>
<circle cx="24" cy="79" r="1" fill="#c4c4c4"/>
<circle cx="11" cy="80" r="1.1" fill="#c4c4c4"/>
<circle cx="31" cy="81" r="1.1" fill="#c4c4c4"/>
</g>
<path d="M22 88.7 Q28 91.8 34 89.17 T40 91.1" fill="none" stroke="#dcdcdc" stroke-width="1.15" opacity="0.85" filter="url(#b05)"/>
<rect x="38.1" width="1.1" height="93.3" fill="#303030" opacity="0.85"/>
<rect x="37.2" width="0.9" height="93.3" fill="#9a9a9a" opacity="0.55"/>
<rect x="0" width="0.8" height="93.3" fill="#8c8c8c" opacity="0.35"/></svg>
<svg x="39.2" y="0" width="39.2" height="93.3" overflow="visible"><rect x="17.1" y="0" width="3.4" height="18.24" fill="#fff" filter="url(#b05)"/>
<rect x="12.8" y="2.5" width="1.5" height="5" fill="#e4e4e4" filter="url(#b05)"/>
<rect x="23.3" y="2.5" width="1.5" height="5" fill="#e4e4e4" filter="url(#b05)"/>
<ellipse cx="18.8" cy="17.24" rx="2.17" ry="4" fill="#fff" filter="url(#b1)"/>
<g filter="url(#b07)" fill="#fff">
<ellipse cx="6.3" cy="34.5" rx="1.6" ry="1.36"/>
<ellipse cx="24.3" cy="37.8" rx="1.84" ry="1.84"/>
<ellipse cx="20.1" cy="86.5" rx="2.2" ry="2.6"/>
<path d="M10.3 79.3 Q9.3 82.8 6.3 85.3" stroke="#f6f6f6" stroke-width="2.2" fill="none" stroke-linecap="round"/>
<path d="M29.8 80.5 Q30.8 84 33.8 86.5" stroke="#f6f6f6" stroke-width="2.2" fill="none" stroke-linecap="round"/>
<circle cx="13.64" cy="72" r="1.3" fill="#c4c4c4"/>
<circle cx="25.64" cy="73" r="1.3" fill="#c4c4c4"/>
<circle cx="17.14" cy="78" r="1" fill="#c4c4c4"/>
<circle cx="22.64" cy="79" r="1" fill="#c4c4c4"/>
<circle cx="9.64" cy="80" r="1.1" fill="#c4c4c4"/>
<circle cx="29.64" cy="81" r="1.1" fill="#c4c4c4"/>
</g>
<path d="M19.1 88.7 Q13.1 91.8 7.1 89.72 T1.1 91.1" fill="none" stroke="#dcdcdc" stroke-width="1.15" opacity="0.85" filter="url(#b05)"/>
<rect x="38.1" width="1.1" height="93.3" fill="#303030" opacity="0.85"/>
<rect x="37.2" width="0.9" height="93.3" fill="#9a9a9a" opacity="0.55"/>
<rect x="0" width="0.8" height="93.3" fill="#8c8c8c" opacity="0.35"/></svg>
<svg x="78.4" y="0" width="39.2" height="93.3" overflow="visible"><rect x="19.2" y="0" width="3.4" height="17.9" fill="#fff" filter="url(#b05)"/>
<rect x="14.9" y="2.5" width="1.5" height="5" fill="#e4e4e4" filter="url(#b05)"/>
<rect x="25.4" y="2.5" width="1.5" height="5" fill="#e4e4e4" filter="url(#b05)"/>
<ellipse cx="20.9" cy="16.9" rx="1.89" ry="4" fill="#fff" filter="url(#b1)"/>
<g filter="url(#b07)" fill="#fff">
<ellipse cx="11.6" cy="36" rx="1.6" ry="1.36"/>
<ellipse cx="29.6" cy="37.8" rx="1.6" ry="1.36"/>
<ellipse cx="19.6" cy="84" rx="2.2" ry="2.6"/>
<path d="M9.6 78.5 Q8.6 82 5.6 84.5" stroke="#f6f6f6" stroke-width="2.2" fill="none" stroke-linecap="round"/>
<path d="M29.4 78.5 Q30.4 82 33.4 84.5" stroke="#f6f6f6" stroke-width="2.2" fill="none" stroke-linecap="round"/>
<circle cx="14.05" cy="72" r="1.3" fill="#c4c4c4"/>
<circle cx="26.05" cy="73" r="1.3" fill="#c4c4c4"/>
<circle cx="17.55" cy="78" r="1" fill="#c4c4c4"/>
<circle cx="23.05" cy="79" r="1" fill="#c4c4c4"/>
<circle cx="10.05" cy="80" r="1.1" fill="#c4c4c4"/>
<circle cx="30.05" cy="81" r="1.1" fill="#c4c4c4"/>
</g>
<path d="M18.6 86.2 Q12.6 91.8 6.6 90.54 T0.6 91.1" fill="none" stroke="#dcdcdc" stroke-width="1.15" opacity="0.85" filter="url(#b05)"/>
<rect x="38.1" width="1.1" height="93.3" fill="#303030" opacity="0.85"/>
<rect x="37.2" width="0.9" height="93.3" fill="#9a9a9a" opacity="0.55"/>
<rect x="0" width="0.8" height="93.3" fill="#8c8c8c" opacity="0.35"/></svg>
<svg x="117.6" y="0" width="39.2" height="93.3" overflow="visible"><rect x="18.7" y="0" width="3.4" height="19" fill="#fff" filter="url(#b05)"/>
<rect x="14.4" y="2.5" width="1.5" height="5" fill="#e4e4e4" filter="url(#b05)"/>
<rect x="24.9" y="2.5" width="1.5" height="5" fill="#e4e4e4" filter="url(#b05)"/>
<ellipse cx="20.4" cy="18" rx="1.82" ry="4" fill="#fff" filter="url(#b1)"/>
<g filter="url(#b07)" fill="#fff">
<ellipse cx="7.4" cy="34" rx="1.6" ry="1.36"/>
<ellipse cx="29.9" cy="33.5" rx="1.6" ry="1.36"/>
<ellipse cx="19.2" cy="85" rx="2.2" ry="2.6"/>
<path d="M10.9 77.5 Q9.9 81 6.9 83.5" stroke="#f6f6f6" stroke-width="2.2" fill="none" stroke-linecap="round"/>
<path d="M28.9 79.5 Q29.9 83 32.9 85.5" stroke="#f6f6f6" stroke-width="2.2" fill="none" stroke-linecap="round"/>
<circle cx="13.62" cy="72" r="1.3" fill="#c4c4c4"/>
<circle cx="25.62" cy="73" r="1.3" fill="#c4c4c4"/>
<circle cx="17.12" cy="78" r="1" fill="#c4c4c4"/>
<circle cx="22.62" cy="79" r="1" fill="#c4c4c4"/>
<circle cx="9.62" cy="80" r="1.1" fill="#c4c4c4"/>
<circle cx="29.62" cy="81" r="1.1" fill="#c4c4c4"/>
</g>
<path d="M20.2 87.2 Q26.2 91.8 32.2 90.01 T38.2 91.1" fill="none" stroke="#dcdcdc" stroke-width="1.15" opacity="0.85" filter="url(#b05)"/>
<rect x="38.1" width="1.1" height="93.3" fill="#303030" opacity="0.85"/>
<rect x="37.2" width="0.9" height="93.3" fill="#9a9a9a" opacity="0.55"/>
<rect x="0" width="0.8" height="93.3" fill="#8c8c8c" opacity="0.35"/></svg>
<svg x="156.8" y="0" width="39.2" height="93.3" overflow="visible"><rect x="20" y="0" width="3.4" height="18.99" fill="#fff" filter="url(#b05)"/>
<rect x="15.7" y="2.5" width="1.5" height="5" fill="#e4e4e4" filter="url(#b05)"/>
<rect x="26.2" y="2.5" width="1.5" height="5" fill="#e4e4e4" filter="url(#b05)"/>
<ellipse cx="21.7" cy="17.99" rx="1.82" ry="4" fill="#fff" filter="url(#b1)"/>
<g filter="url(#b07)" fill="#fff">
<ellipse cx="18.2" cy="34" rx="2.24" ry="1.2"/>
<ellipse cx="34.2" cy="34.5" rx="2.24" ry="1.2"/>
<ellipse cx="25" cy="84" rx="2.2" ry="2.6"/>
<path d="M11.7 81.8 Q10.7 85.3 7.7 87.8" stroke="#f6f6f6" stroke-width="2.2" fill="none" stroke-linecap="round"/>
<path d="M35.7 77.5 Q36.7 81 39.7 83.5" stroke="#f6f6f6" stroke-width="2.2" fill="none" stroke-linecap="round"/>
<circle cx="15.2" cy="72" r="1.3" fill="#c4c4c4"/>
<circle cx="27.2" cy="73" r="1.3" fill="#c4c4c4"/>
<circle cx="18.7" cy="78" r="1" fill="#c4c4c4"/>
<circle cx="24.2" cy="79" r="1" fill="#c4c4c4"/>
<circle cx="11.2" cy="80" r="1.1" fill="#c4c4c4"/>
<circle cx="31.2" cy="81" r="1.1" fill="#c4c4c4"/>
</g>
<path d="M24 86.2 Q18 91.8 12 91.06 T6 91.1" fill="none" stroke="#dcdcdc" stroke-width="1.15" opacity="0.85" filter="url(#b05)"/>
<rect x="38.1" width="1.1" height="93.3" fill="#303030" opacity="0.85"/>
<rect x="37.2" width="0.9" height="93.3" fill="#9a9a9a" opacity="0.55"/>
<rect x="0" width="0.8" height="93.3" fill="#8c8c8c" opacity="0.35"/></svg>
</svg>
<svg x="355" y="151.3" width="196" height="93" overflow="hidden">
<svg x="0" y="0" width="39.2" height="93" overflow="hidden">
<rect width="39.2" height="93" fill="#606060"/>
<rect width="39.2" height="19.5" fill="#404040"/>
<rect x="12" y="1" width="1.8" height="18" fill="#6e6e6e"/>
<rect x="15.2" y="1" width="1.4" height="18" fill="#5a5a5a"/>
<rect x="22.8" y="1" width="1.4" height="18" fill="#5a5a5a"/>
<rect x="25.8" y="1" width="1.8" height="18" fill="#6e6e6e"/>
<rect x="3.7" y="-4" width="6.8" height="24.1" rx="2.4" fill="#161616"/>
<rect x="6.4" y="1" width="1.4" height="16.7" rx="0.7" fill="#707070" opacity="0.85"/>
<rect x="30.1" y="-4" width="6.8" height="24.1" rx="2.4" fill="#161616"/>
<rect x="32.8" y="1" width="1.4" height="16.7" rx="0.7" fill="#707070" opacity="0.85"/>
<path d="M18.88 15.5 C28.88 15.5 32.88 19 34.38 30 C35.38 43 36.68 51 36.68 67 C36.68 81 30.88 90 18.88 90 C6.88 90 1.07 81 1.07 67 C1.07 51 2.38 43 3.38 30 C4.88 19 8.88 15.5 18.88 15.5Z" fill="#202020" filter="url(#b15)"/>
<g filter="url(#b3)">
<ellipse cx="18.49" cy="62" rx="13.5" ry="22" fill="#5a5a5a"/>
<ellipse cx="18.88" cy="27" rx="5" ry="4" fill="#5a5a5a"/>
</g>
<g filter="url(#b15)" fill="#6a6a6a" opacity="0.8">
<ellipse cx="9.88" cy="76" rx="4" ry="5"/>
<ellipse cx="27.88" cy="76" rx="4" ry="5"/>
<ellipse cx="18.49" cy="53" rx="6" ry="9"/>
<ellipse cx="18.88" cy="84" rx="11" ry="4.5" opacity="0.7"/>
</g>
<g filter="url(#b1)" fill="#9a9a9a">
<ellipse cx="7.38" cy="24" rx="2.3" ry="3"/>
<ellipse cx="30.38" cy="24" rx="2.3" ry="3"/>
</g>
<rect y="88.5" width="39.2" height="3.2" fill="#858585" opacity="0.5"/>
<rect y="91.7" width="39.2" height="1.3" fill="#3c3c3c"/>
<rect width="39.2" height="1.4" fill="#242424"/>
</svg>
<svg x="39.2" y="0" width="39.2" height="93" overflow="hidden">
<rect width="39.2" height="93" fill="#606060"/>
<rect width="39.2" height="19.5" fill="#404040"/>
<rect x="12" y="1" width="1.8" height="18" fill="#6e6e6e"/>
<rect x="15.2" y="1" width="1.4" height="18" fill="#5a5a5a"/>
<rect x="22.8" y="1" width="1.4" height="18" fill="#5a5a5a"/>
<rect x="25.8" y="1" width="1.8" height="18" fill="#6e6e6e"/>
<rect x="3.7" y="-4" width="6.8" height="24.1" rx="2.4" fill="#161616"/>
<rect x="6.4" y="1" width="1.4" height="16.7" rx="0.7" fill="#707070" opacity="0.85"/>
<rect x="30.1" y="-4" width="6.8" height="24.1" rx="2.4" fill="#161616"/>
<rect x="32.8" y="1" width="1.4" height="16.7" rx="0.7" fill="#707070" opacity="0.85"/>
<path d="M19.25 15.5 C29.25 15.5 33.25 19 34.75 30 C35.75 43 38.03 51 38.03 67 C38.03 81 31.25 90 19.25 90 C7.25 90 0.48 81 0.48 67 C0.48 51 2.75 43 3.75 30 C5.25 19 9.25 15.5 19.25 15.5Z" fill="#202020" filter="url(#b15)"/>
<g filter="url(#b3)">
<ellipse cx="19.12" cy="62" rx="13.5" ry="22" fill="#5a5a5a"/>
<ellipse cx="19.25" cy="27" rx="5" ry="4" fill="#5a5a5a"/>
</g>
<g filter="url(#b15)" fill="#6a6a6a" opacity="0.8">
<ellipse cx="10.25" cy="76" rx="4" ry="5"/>
<ellipse cx="28.25" cy="76" rx="4" ry="5"/>
<ellipse cx="19.12" cy="53" rx="6" ry="9"/>
<ellipse cx="19.25" cy="84" rx="11" ry="4.5" opacity="0.7"/>
</g>
<g filter="url(#b1)" fill="#9a9a9a">
<ellipse cx="7.75" cy="24" rx="2.3" ry="3"/>
<ellipse cx="30.75" cy="24" rx="2.3" ry="3"/>
</g>
<rect y="88.5" width="39.2" height="3.2" fill="#858585" opacity="0.5"/>
<rect y="91.7" width="39.2" height="1.3" fill="#3c3c3c"/>
<rect width="39.2" height="1.4" fill="#242424"/>
</svg>
<svg x="78.4" y="0" width="39.2" height="93" overflow="hidden">
<rect width="39.2" height="93" fill="#606060"/>
<rect width="39.2" height="19.5" fill="#404040"/>
<rect x="12" y="1" width="1.8" height="18" fill="#6e6e6e"/>
<rect x="15.2" y="1" width="1.4" height="18" fill="#5a5a5a"/>
<rect x="22.8" y="1" width="1.4" height="18" fill="#5a5a5a"/>
<rect x="25.8" y="1" width="1.8" height="18" fill="#6e6e6e"/>
<rect x="3.7" y="-4" width="6.8" height="24.1" rx="2.4" fill="#161616"/>
<rect x="6.4" y="1" width="1.4" height="16.7" rx="0.7" fill="#707070" opacity="0.85"/>
<rect x="30.1" y="-4" width="6.8" height="24.1" rx="2.4" fill="#161616"/>
<rect x="32.8" y="1" width="1.4" height="16.7" rx="0.7" fill="#707070" opacity="0.85"/>
<path d="M18.82 15.5 C28.82 15.5 32.82 19 34.32 30 C35.32 43 36.56 51 36.56 67 C36.56 81 30.82 90 18.82 90 C6.82 90 1.08 81 1.08 67 C1.08 51 2.32 43 3.32 30 C4.82 19 8.82 15.5 18.82 15.5Z" fill="#202020" filter="url(#b15)"/>
<g filter="url(#b3)">
<ellipse cx="19.79" cy="62" rx="13.5" ry="22" fill="#5a5a5a"/>
<ellipse cx="18.82" cy="27" rx="5" ry="4" fill="#5a5a5a"/>
</g>
<g filter="url(#b15)" fill="#6a6a6a" opacity="0.8">
<ellipse cx="9.82" cy="76" rx="4" ry="5"/>
<ellipse cx="27.82" cy="76" rx="4" ry="5"/>
<ellipse cx="19.79" cy="53" rx="6" ry="9"/>
<ellipse cx="18.82" cy="84" rx="11" ry="4.5" opacity="0.7"/>
</g>
<g filter="url(#b1)" fill="#9a9a9a">
<ellipse cx="7.32" cy="24" rx="2.3" ry="3"/>
<ellipse cx="30.32" cy="24" rx="2.3" ry="3"/>
</g>
<rect y="88.5" width="39.2" height="3.2" fill="#858585" opacity="0.5"/>
<rect y="91.7" width="39.2" height="1.3" fill="#3c3c3c"/>
<rect width="39.2" height="1.4" fill="#242424"/>
</svg>
<svg x="117.6" y="0" width="39.2" height="93" overflow="hidden">
<rect width="39.2" height="93" fill="#606060"/>
<rect width="39.2" height="19.5" fill="#404040"/>
<rect x="12" y="1" width="1.8" height="18" fill="#6e6e6e"/>
<rect x="15.2" y="1" width="1.4" height="18" fill="#5a5a5a"/>
<rect x="22.8" y="1" width="1.4" height="18" fill="#5a5a5a"/>
<rect x="25.8" y="1" width="1.8" height="18" fill="#6e6e6e"/>
<rect x="3.7" y="-4" width="6.8" height="24.1" rx="2.4" fill="#161616"/>
<rect x="6.4" y="1" width="1.4" height="16.7" rx="0.7" fill="#707070" opacity="0.85"/>
<rect x="30.1" y="-4" width="6.8" height="24.1" rx="2.4" fill="#161616"/>
<rect x="32.8" y="1" width="1.4" height="16.7" rx="0.7" fill="#707070" opacity="0.85"/>
<path d="M20.85 15.5 C30.85 15.5 34.85 19 36.35 30 C37.35 43 39.39 51 39.39 67 C39.39 81 32.85 90 20.85 90 C8.85 90 2.32 81 2.32 67 C2.32 51 4.35 43 5.35 30 C6.85 19 10.85 15.5 20.85 15.5Z" fill="#202020" filter="url(#b15)"/>
<g filter="url(#b3)">
<ellipse cx="21.96" cy="62" rx="13.5" ry="22" fill="#5a5a5a"/>
<ellipse cx="20.85" cy="27" rx="5" ry="4" fill="#5a5a5a"/>
</g>
<g filter="url(#b15)" fill="#6a6a6a" opacity="0.8">
<ellipse cx="11.85" cy="76" rx="4" ry="5"/>
<ellipse cx="29.85" cy="76" rx="4" ry="5"/>
<ellipse cx="21.96" cy="53" rx="6" ry="9"/>
<ellipse cx="20.85" cy="84" rx="11" ry="4.5" opacity="0.7"/>
</g>
<g filter="url(#b1)" fill="#9a9a9a">
<ellipse cx="9.35" cy="24" rx="2.3" ry="3"/>
<ellipse cx="32.35" cy="24" rx="2.3" ry="3"/>
</g>
<rect y="88.5" width="39.2" height="3.2" fill="#858585" opacity="0.5"/>
<rect y="91.7" width="39.2" height="1.3" fill="#3c3c3c"/>
<rect width="39.2" height="1.4" fill="#242424"/>
</svg>
<svg x="156.8" y="0" width="39.2" height="93" overflow="hidden">
<rect width="39.2" height="93" fill="#606060"/>
<rect width="39.2" height="19.5" fill="#404040"/>
<rect x="12" y="1" width="1.8" height="18" fill="#6e6e6e"/>
<rect x="15.2" y="1" width="1.4" height="18" fill="#5a5a5a"/>
<rect x="22.8" y="1" width="1.4" height="18" fill="#5a5a5a"/>
<rect x="25.8" y="1" width="1.8" height="18" fill="#6e6e6e"/>
<rect x="3.7" y="-4" width="6.8" height="24.1" rx="2.4" fill="#161616"/>
<rect x="6.4" y="1" width="1.4" height="16.7" rx="0.7" fill="#707070" opacity="0.85"/>
<rect x="30.1" y="-4" width="6.8" height="24.1" rx="2.4" fill="#161616"/>
<rect x="32.8" y="1" width="1.4" height="16.7" rx="0.7" fill="#707070" opacity="0.85"/>
<path d="M21.2 15.5 C31.2 15.5 35.2 19 36.7 30 C37.7 43 39.17 51 39.17 67 C39.17 81 33.2 90 21.2 90 C9.2 90 3.23 81 3.23 67 C3.23 51 4.7 43 5.7 30 C7.2 19 11.2 15.5 21.2 15.5Z" fill="#202020" filter="url(#b15)"/>
<g filter="url(#b3)">
<ellipse cx="21.38" cy="62" rx="13.5" ry="22" fill="#5a5a5a"/>
<ellipse cx="21.2" cy="27" rx="5" ry="4" fill="#5a5a5a"/>
</g>
<g filter="url(#b15)" fill="#6a6a6a" opacity="0.8">
<ellipse cx="12.2" cy="76" rx="4" ry="5"/>
<ellipse cx="30.2" cy="76" rx="4" ry="5"/>
<ellipse cx="21.38" cy="53" rx="6" ry="9"/>
<ellipse cx="21.2" cy="84" rx="11" ry="4.5" opacity="0.7"/>
</g>
<g filter="url(#b1)" fill="#9a9a9a">
<ellipse cx="9.7" cy="24" rx="2.3" ry="3"/>
<ellipse cx="32.7" cy="24" rx="2.3" ry="3"/>
</g>
<rect y="88.5" width="39.2" height="3.2" fill="#858585" opacity="0.5"/>
<rect y="91.7" width="39.2" height="1.3" fill="#3c3c3c"/>
<rect width="39.2" height="1.4" fill="#242424"/>
</svg>
<rect width="196" height="93" filter="url(#noiseO)" style="mix-blend-mode:overlay" opacity="0.9"/>
<svg x="0" y="0" width="39.2" height="93" overflow="visible"><rect x="18.8" y="0" width="3.4" height="18.97" fill="#fff" filter="url(#b05)"/>
<rect x="14.5" y="2.5" width="1.5" height="5" fill="#e4e4e4" filter="url(#b05)"/>
<rect x="25" y="2.5" width="1.5" height="5" fill="#e4e4e4" filter="url(#b05)"/>
<ellipse cx="20.5" cy="17.97" rx="2.05" ry="4" fill="#fff" filter="url(#b1)"/>
<g filter="url(#b07)" fill="#fff">
<ellipse cx="12.5" cy="41.2" rx="1.84" ry="1.92"/>
<ellipse cx="29.3" cy="36.7" rx="1.6" ry="1.36"/>
<ellipse cx="18" cy="88" rx="2.2" ry="2.6"/>
<path d="M7.5 80.5 Q6.5 84 3.5 86.5" stroke="#f6f6f6" stroke-width="2.2" fill="none" stroke-linecap="round"/>
<path d="M31.5 80.7 Q32.5 84.2 35.5 86.7" stroke="#f6f6f6" stroke-width="2.2" fill="none" stroke-linecap="round"/>
<circle cx="12.88" cy="72" r="1.3" fill="#c4c4c4"/>
<circle cx="24.88" cy="73" r="1.3" fill="#c4c4c4"/>
<circle cx="16.38" cy="78" r="1" fill="#c4c4c4"/>
<circle cx="21.88" cy="79" r="1" fill="#c4c4c4"/>
<circle cx="8.88" cy="80" r="1.1" fill="#c4c4c4"/>
<circle cx="28.88" cy="81" r="1.1" fill="#c4c4c4"/>
</g>
<path d="M17 90 Q11 91.5 5 90.49 T-1 90.8" fill="none" stroke="#dcdcdc" stroke-width="1.15" opacity="0.85" filter="url(#b05)"/>
<rect x="38.1" width="1.1" height="93" fill="#303030" opacity="0.85"/>
<rect x="37.2" width="0.9" height="93" fill="#9a9a9a" opacity="0.55"/>
<rect x="0" width="0.8" height="93" fill="#8c8c8c" opacity="0.35"/></svg>
<svg x="39.2" y="0" width="39.2" height="93" overflow="visible"><rect x="18.4" y="0" width="3.4" height="19.1" fill="#fff" filter="url(#b05)"/>
<rect x="14.1" y="2.5" width="1.5" height="5" fill="#e4e4e4" filter="url(#b05)"/>
<rect x="24.6" y="2.5" width="1.5" height="5" fill="#e4e4e4" filter="url(#b05)"/>
<ellipse cx="20.1" cy="18.1" rx="2.31" ry="4" fill="#fff" filter="url(#b1)"/>
<g filter="url(#b07)" fill="#fff">
<ellipse cx="9.6" cy="36.2" rx="1.84" ry="1.84"/>
<ellipse cx="29.3" cy="41.2" rx="1.84" ry="2"/>
<ellipse cx="18.8" cy="88" rx="2.2" ry="2.6"/>
<path d="M7.6 83.2 Q6.6 86.7 3.6 89.2" stroke="#f6f6f6" stroke-width="2.2" fill="none" stroke-linecap="round"/>
<path d="M31.3 82 Q32.3 85.5 35.3 88" stroke="#f6f6f6" stroke-width="2.2" fill="none" stroke-linecap="round"/>
<circle cx="13.25" cy="72" r="1.3" fill="#c4c4c4"/>
<circle cx="25.25" cy="73" r="1.3" fill="#c4c4c4"/>
<circle cx="16.75" cy="78" r="1" fill="#c4c4c4"/>
<circle cx="22.25" cy="79" r="1" fill="#c4c4c4"/>
<circle cx="9.25" cy="80" r="1.1" fill="#c4c4c4"/>
<circle cx="29.25" cy="81" r="1.1" fill="#c4c4c4"/>
</g>
<path d="M19.8 90 Q25.8 91.5 31.8 90.18 T37.8 90.8" fill="none" stroke="#dcdcdc" stroke-width="1.15" opacity="0.85" filter="url(#b05)"/>
<rect x="38.1" width="1.1" height="93" fill="#303030" opacity="0.85"/>
<rect x="37.2" width="0.9" height="93" fill="#9a9a9a" opacity="0.55"/>
<rect x="0" width="0.8" height="93" fill="#8c8c8c" opacity="0.35"/></svg>
<svg x="78.4" y="0" width="39.2" height="93" overflow="visible"><rect x="17.9" y="0" width="3.4" height="18.41" fill="#fff" filter="url(#b05)"/>
<rect x="13.6" y="2.5" width="1.5" height="5" fill="#e4e4e4" filter="url(#b05)"/>
<rect x="24.1" y="2.5" width="1.5" height="5" fill="#e4e4e4" filter="url(#b05)"/>
<ellipse cx="19.6" cy="17.41" rx="2.34" ry="4" fill="#fff" filter="url(#b1)"/>
<g filter="url(#b07)" fill="#fff">
<ellipse cx="14.1" cy="34.2" rx="1.6" ry="1.36"/>
<ellipse cx="35.1" cy="35.5" rx="1.2" ry="1.84"/>
<ellipse cx="18.4" cy="86.7" rx="2.2" ry="2.6"/>
<path d="M8.4 79.5 Q7.4 83 4.4 85.5" stroke="#f6f6f6" stroke-width="2.2" fill="none" stroke-linecap="round"/>
<path d="M29.1 77.5 Q30.1 81 33.1 83.5" stroke="#f6f6f6" stroke-width="2.2" fill="none" stroke-linecap="round"/>
<circle cx="12.82" cy="72" r="1.3" fill="#c4c4c4"/>
<circle cx="24.82" cy="73" r="1.3" fill="#c4c4c4"/>
<circle cx="16.32" cy="78" r="1" fill="#c4c4c4"/>
<circle cx="21.82" cy="79" r="1" fill="#c4c4c4"/>
<circle cx="8.82" cy="80" r="1.1" fill="#c4c4c4"/>
<circle cx="28.82" cy="81" r="1.1" fill="#c4c4c4"/>
</g>
<path d="M17.4 88.9 Q11.4 91.5 5.4 90.05 T-0.6 90.8" fill="none" stroke="#dcdcdc" stroke-width="1.15" opacity="0.85" filter="url(#b05)"/>
<rect x="38.1" width="1.1" height="93" fill="#303030" opacity="0.85"/>
<rect x="37.2" width="0.9" height="93" fill="#9a9a9a" opacity="0.55"/>
<rect x="0" width="0.8" height="93" fill="#8c8c8c" opacity="0.35"/></svg>
<svg x="117.6" y="0" width="39.2" height="93" overflow="visible"><rect x="20" y="0" width="3.4" height="17.92" fill="#fff" filter="url(#b05)"/>
<rect x="15.7" y="2.5" width="1.5" height="5" fill="#e4e4e4" filter="url(#b05)"/>
<rect x="26.2" y="2.5" width="1.5" height="5" fill="#e4e4e4" filter="url(#b05)"/>
<ellipse cx="21.7" cy="16.92" rx="1.96" ry="4" fill="#fff" filter="url(#b1)"/>
<g filter="url(#b07)" fill="#fff">
<ellipse cx="11.7" cy="38" rx="1.6" ry="1.36"/>
<ellipse cx="29.9" cy="35.5" rx="1.6" ry="1.36"/>
<ellipse cx="20.4" cy="88" rx="2.2" ry="2.6"/>
<path d="M10.4 80.7 Q9.4 84.2 6.4 86.7" stroke="#f6f6f6" stroke-width="2.2" fill="none" stroke-linecap="round"/>
<path d="M31.4 82 Q32.4 85.5 35.4 88" stroke="#f6f6f6" stroke-width="2.2" fill="none" stroke-linecap="round"/>
<circle cx="14.85" cy="72" r="1.3" fill="#c4c4c4"/>
<circle cx="26.85" cy="73" r="1.3" fill="#c4c4c4"/>
<circle cx="18.35" cy="78" r="1" fill="#c4c4c4"/>
<circle cx="23.85" cy="79" r="1" fill="#c4c4c4"/>
<circle cx="10.85" cy="80" r="1.1" fill="#c4c4c4"/>
<circle cx="30.85" cy="81" r="1.1" fill="#c4c4c4"/>
</g>
<path d="M21.4 90 Q27.4 91.5 33.4 88.93 T39.4 90.8" fill="none" stroke="#dcdcdc" stroke-width="1.15" opacity="0.85" filter="url(#b05)"/>
<rect x="38.1" width="1.1" height="93" fill="#303030" opacity="0.85"/>
<rect x="37.2" width="0.9" height="93" fill="#9a9a9a" opacity="0.55"/>
<rect x="0" width="0.8" height="93" fill="#8c8c8c" opacity="0.35"/></svg>
<svg x="156.8" y="0" width="39.2" height="93" overflow="visible"><rect x="20" y="0" width="3.4" height="18.56" fill="#fff" filter="url(#b05)"/>
<rect x="15.7" y="2.5" width="1.5" height="5" fill="#e4e4e4" filter="url(#b05)"/>
<rect x="26.2" y="2.5" width="1.5" height="5" fill="#e4e4e4" filter="url(#b05)"/>
<ellipse cx="21.7" cy="17.56" rx="1.82" ry="4" fill="#fff" filter="url(#b1)"/>
<g filter="url(#b07)" fill="#fff">
<ellipse cx="16.2" cy="36.7" rx="2.24" ry="1.2"/>
<ellipse cx="31.7" cy="34.2" rx="1.2" ry="2.08"/>
<ellipse cx="21.7" cy="88" rx="2.2" ry="2.6"/>
<path d="M11.2 80.7 Q10.2 84.2 7.2 86.7" stroke="#f6f6f6" stroke-width="2.2" fill="none" stroke-linecap="round"/>
<path d="M32.2 79.5 Q33.2 83 36.2 85.5" stroke="#f6f6f6" stroke-width="2.2" fill="none" stroke-linecap="round"/>
<circle cx="15.2" cy="72" r="1.3" fill="#c4c4c4"/>
<circle cx="27.2" cy="73" r="1.3" fill="#c4c4c4"/>
<circle cx="18.7" cy="78" r="1" fill="#c4c4c4"/>
<circle cx="24.2" cy="79" r="1" fill="#c4c4c4"/>
<circle cx="11.2" cy="80" r="1.1" fill="#c4c4c4"/>
<circle cx="31.2" cy="81" r="1.1" fill="#c4c4c4"/>
</g>
<path d="M22.7 90 Q28.7 91.5 34.7 90.47 T40.7 90.8" fill="none" stroke="#dcdcdc" stroke-width="1.15" opacity="0.85" filter="url(#b05)"/>
<rect x="38.1" width="1.1" height="93" fill="#303030" opacity="0.85"/>
<rect x="37.2" width="0.9" height="93" fill="#9a9a9a" opacity="0.55"/>
<rect x="0" width="0.8" height="93" fill="#8c8c8c" opacity="0.35"/></svg>
</svg>
<svg x="557.4" y="51.3" width="196.6" height="93.3" overflow="hidden">
<svg x="0" y="0" width="39.32" height="93.3" overflow="hidden">
<rect width="39.32" height="93.3" fill="#929292"/>
<rect width="39.32" height="18.4" fill="#727272"/>
<rect x="12" y="1" width="1.8" height="16.9" fill="#a8a8a8"/>
<rect x="15.2" y="1" width="1.4" height="16.9" fill="#949494"/>
<rect x="22.8" y="1" width="1.4" height="16.9" fill="#949494"/>
<rect x="25.8" y="1" width="1.8" height="16.9" fill="#a8a8a8"/>
<rect x="3.7" y="-4" width="6.8" height="23" rx="2.4" fill="#161616"/>
<rect x="6.4" y="1" width="1.4" height="15.6" rx="0.7" fill="#a0a0a0" opacity="0.85"/>
<rect x="30.1" y="-4" width="6.8" height="23" rx="2.4" fill="#161616"/>
<rect x="32.8" y="1" width="1.4" height="15.6" rx="0.7" fill="#a0a0a0" opacity="0.85"/>
<path d="M19.38 14.5 C29.38 14.5 33.38 18 34.88 29 C35.88 42 37.39 50 37.39 66 C37.39 80 31.38 89 19.38 89 C7.38 89 1.37 80 1.37 66 C1.37 50 2.88 42 3.88 29 C5.38 18 9.38 14.5 19.38 14.5Z" fill="#3a3a3a" filter="url(#b15)"/>
<g filter="url(#b3)">
<ellipse cx="18.42" cy="61" rx="13.5" ry="22" fill="#7a7a7a"/>
<ellipse cx="19.38" cy="26" rx="5" ry="4" fill="#5a5a5a"/>
</g>
<g filter="url(#b15)" fill="#929292" opacity="0.8">
<ellipse cx="10.38" cy="75" rx="4" ry="5"/>
<ellipse cx="28.38" cy="75" rx="4" ry="5"/>
<ellipse cx="18.42" cy="52" rx="6" ry="9"/>
<ellipse cx="19.38" cy="83" rx="11" ry="4.5" opacity="0.7"/>
</g>
<g filter="url(#b1)" fill="#9a9a9a">
<ellipse cx="7.88" cy="23" rx="2.3" ry="3"/>
<ellipse cx="30.88" cy="23" rx="2.3" ry="3"/>
</g>
<rect y="88.8" width="39.32" height="3.2" fill="#858585" opacity="0.5"/>
<rect y="92" width="39.32" height="1.3" fill="#3c3c3c"/>
<rect width="39.32" height="1.4" fill="#242424"/>
</svg>
<svg x="39.32" y="0" width="39.32" height="93.3" overflow="hidden">
<rect width="39.32" height="93.3" fill="#929292"/>
<rect width="39.32" height="18.4" fill="#727272"/>
<rect x="12" y="1" width="1.8" height="16.9" fill="#a8a8a8"/>
<rect x="15.2" y="1" width="1.4" height="16.9" fill="#949494"/>
<rect x="22.8" y="1" width="1.4" height="16.9" fill="#949494"/>
<rect x="25.8" y="1" width="1.8" height="16.9" fill="#a8a8a8"/>
<rect x="3.7" y="-4" width="6.8" height="23" rx="2.4" fill="#161616"/>
<rect x="6.4" y="1" width="1.4" height="15.6" rx="0.7" fill="#a0a0a0" opacity="0.85"/>
<rect x="30.1" y="-4" width="6.8" height="23" rx="2.4" fill="#161616"/>
<rect x="32.8" y="1" width="1.4" height="15.6" rx="0.7" fill="#a0a0a0" opacity="0.85"/>
<path d="M18.43 14.5 C28.43 14.5 32.43 18 33.93 29 C34.93 42 36.64 50 36.64 66 C36.64 80 30.43 89 18.43 89 C6.43 89 0.23 80 0.23 66 C0.23 50 1.93 42 2.93 29 C4.43 18 8.43 14.5 18.43 14.5Z" fill="#3a3a3a" filter="url(#b15)"/>
<g filter="url(#b3)">
<ellipse cx="18.96" cy="61" rx="13.5" ry="22" fill="#7a7a7a"/>
<ellipse cx="18.43" cy="26" rx="5" ry="4" fill="#5a5a5a"/>
</g>
<g filter="url(#b15)" fill="#929292" opacity="0.8">
<ellipse cx="9.43" cy="75" rx="4" ry="5"/>
<ellipse cx="27.43" cy="75" rx="4" ry="5"/>
<ellipse cx="18.96" cy="52" rx="6" ry="9"/>
<ellipse cx="18.43" cy="83" rx="11" ry="4.5" opacity="0.7"/>
</g>
<g filter="url(#b1)" fill="#9a9a9a">
<ellipse cx="6.93" cy="23" rx="2.3" ry="3"/>
<ellipse cx="29.93" cy="23" rx="2.3" ry="3"/>
</g>
<rect y="88.8" width="39.32" height="3.2" fill="#858585" opacity="0.5"/>
<rect y="92" width="39.32" height="1.3" fill="#3c3c3c"/>
<rect width="39.32" height="1.4" fill="#242424"/>
</svg>
<svg x="78.64" y="0" width="39.32" height="93.3" overflow="hidden">
<rect width="39.32" height="93.3" fill="#929292"/>
<rect width="39.32" height="18.4" fill="#727272"/>
<rect x="12" y="1" width="1.8" height="16.9" fill="#a8a8a8"/>
<rect x="15.2" y="1" width="1.4" height="16.9" fill="#949494"/>
<rect x="22.8" y="1" width="1.4" height="16.9" fill="#949494"/>
<rect x="25.8" y="1" width="1.8" height="16.9" fill="#a8a8a8"/>
<rect x="3.7" y="-4" width="6.8" height="23" rx="2.4" fill="#161616"/>
<rect x="6.4" y="1" width="1.4" height="15.6" rx="0.7" fill="#a0a0a0" opacity="0.85"/>
<rect x="30.1" y="-4" width="6.8" height="23" rx="2.4" fill="#161616"/>
<rect x="32.8" y="1" width="1.4" height="15.6" rx="0.7" fill="#a0a0a0" opacity="0.85"/>
<path d="M21.32 14.5 C31.32 14.5 35.32 18 36.82 29 C37.82 42 39.93 50 39.93 66 C39.93 80 33.32 89 21.32 89 C9.32 89 2.71 80 2.71 66 C2.71 50 4.82 42 5.82 29 C7.32 18 11.32 14.5 21.32 14.5Z" fill="#3a3a3a" filter="url(#b15)"/>
<g filter="url(#b3)">
<ellipse cx="22.43" cy="61" rx="13.5" ry="22" fill="#7a7a7a"/>
<ellipse cx="21.32" cy="26" rx="5" ry="4" fill="#5a5a5a"/>
</g>
<g filter="url(#b15)" fill="#929292" opacity="0.8">
<ellipse cx="12.32" cy="75" rx="4" ry="5"/>
<ellipse cx="30.32" cy="75" rx="4" ry="5"/>
<ellipse cx="22.43" cy="52" rx="6" ry="9"/>
<ellipse cx="21.32" cy="83" rx="11" ry="4.5" opacity="0.7"/>
</g>
<g filter="url(#b1)" fill="#9a9a9a">
<ellipse cx="9.82" cy="23" rx="2.3" ry="3"/>
<ellipse cx="32.82" cy="23" rx="2.3" ry="3"/>
</g>
<rect y="88.8" width="39.32" height="3.2" fill="#858585" opacity="0.5"/>
<rect y="92" width="39.32" height="1.3" fill="#3c3c3c"/>
<rect width="39.32" height="1.4" fill="#242424"/>
</svg>
<svg x="117.96" y="0" width="39.32" height="93.3" overflow="hidden">
<rect width="39.32" height="93.3" fill="#929292"/>
<rect width="39.32" height="18.4" fill="#727272"/>
<rect x="12" y="1" width="1.8" height="16.9" fill="#a8a8a8"/>
<rect x="15.2" y="1" width="1.4" height="16.9" fill="#949494"/>
<rect x="22.8" y="1" width="1.4" height="16.9" fill="#949494"/>
<rect x="25.8" y="1" width="1.8" height="16.9" fill="#a8a8a8"/>
<rect x="3.7" y="-4" width="6.8" height="23" rx="2.4" fill="#161616"/>
<rect x="6.4" y="1" width="1.4" height="15.6" rx="0.7" fill="#a0a0a0" opacity="0.85"/>
<rect x="30.1" y="-4" width="6.8" height="23" rx="2.4" fill="#161616"/>
<rect x="32.8" y="1" width="1.4" height="15.6" rx="0.7" fill="#a0a0a0" opacity="0.85"/>
<path d="M21.32 14.5 C31.32 14.5 35.32 18 36.82 29 C37.82 42 39.92 50 39.92 66 C39.92 80 33.32 89 21.32 89 C9.32 89 2.72 80 2.72 66 C2.72 50 4.82 42 5.82 29 C7.32 18 11.32 14.5 21.32 14.5Z" fill="#3a3a3a" filter="url(#b15)"/>
<g filter="url(#b3)">
<ellipse cx="22.63" cy="61" rx="13.5" ry="22" fill="#7a7a7a"/>
<ellipse cx="21.32" cy="26" rx="5" ry="4" fill="#5a5a5a"/>
</g>
<g filter="url(#b15)" fill="#929292" opacity="0.8">
<ellipse cx="12.32" cy="75" rx="4" ry="5"/>
<ellipse cx="30.32" cy="75" rx="4" ry="5"/>
<ellipse cx="22.63" cy="52" rx="6" ry="9"/>
<ellipse cx="21.32" cy="83" rx="11" ry="4.5" opacity="0.7"/>
</g>
<g filter="url(#b1)" fill="#9a9a9a">
<ellipse cx="9.82" cy="23" rx="2.3" ry="3"/>
<ellipse cx="32.82" cy="23" rx="2.3" ry="3"/>
</g>
<rect y="88.8" width="39.32" height="3.2" fill="#858585" opacity="0.5"/>
<rect y="92" width="39.32" height="1.3" fill="#3c3c3c"/>
<rect width="39.32" height="1.4" fill="#242424"/>
</svg>
<svg x="157.28" y="0" width="39.32" height="93.3" overflow="hidden">
<rect width="39.32" height="93.3" fill="#929292"/>
<rect width="39.32" height="18.4" fill="#727272"/>
<rect x="12" y="1" width="1.8" height="16.9" fill="#a8a8a8"/>
<rect x="15.2" y="1" width="1.4" height="16.9" fill="#949494"/>
<rect x="22.8" y="1" width="1.4" height="16.9" fill="#949494"/>
<rect x="25.8" y="1" width="1.8" height="16.9" fill="#a8a8a8"/>
<rect x="3.7" y="-4" width="6.8" height="23" rx="2.4" fill="#161616"/>
<rect x="6.4" y="1" width="1.4" height="15.6" rx="0.7" fill="#a0a0a0" opacity="0.85"/>
<rect x="30.1" y="-4" width="6.8" height="23" rx="2.4" fill="#161616"/>
<rect x="32.8" y="1" width="1.4" height="15.6" rx="0.7" fill="#a0a0a0" opacity="0.85"/>
<path d="M21.32 14.5 C31.32 14.5 35.32 18 36.82 29 C37.82 42 40.04 50 40.04 66 C40.04 80 33.32 89 21.32 89 C9.32 89 2.6 80 2.6 66 C2.6 50 4.82 42 5.82 29 C7.32 18 11.32 14.5 21.32 14.5Z" fill="#3a3a3a" filter="url(#b15)"/>
<g filter="url(#b3)">
<ellipse cx="21.37" cy="61" rx="13.5" ry="22" fill="#7a7a7a"/>
<ellipse cx="21.32" cy="26" rx="5" ry="4" fill="#5a5a5a"/>
</g>
<g filter="url(#b15)" fill="#929292" opacity="0.8">
<ellipse cx="12.32" cy="75" rx="4" ry="5"/>
<ellipse cx="30.32" cy="75" rx="4" ry="5"/>
<ellipse cx="21.37" cy="52" rx="6" ry="9"/>
<ellipse cx="21.32" cy="83" rx="11" ry="4.5" opacity="0.7"/>
</g>
<g filter="url(#b1)" fill="#9a9a9a">
<ellipse cx="9.82" cy="23" rx="2.3" ry="3"/>
<ellipse cx="32.82" cy="23" rx="2.3" ry="3"/>
</g>
<rect y="88.8" width="39.32" height="3.2" fill="#858585" opacity="0.5"/>
<rect y="92" width="39.32" height="1.3" fill="#3c3c3c"/>
<rect width="39.32" height="1.4" fill="#242424"/>
</svg>
<rect width="196.6" height="93.3" filter="url(#noiseO)" style="mix-blend-mode:overlay" opacity="0.9"/>
<svg x="0" y="0" width="39.32" height="93.3" overflow="visible"><rect x="18.8" y="1" width="2.2" height="11.67" fill="#c8c8c8" opacity="0.75" filter="url(#b05)"/>
<path d="M19.9 8.67 C21.1 10.67 22.87 14.63 22.67 17.63 C22.27 20.43 17.53 20.43 17.13 17.63 C16.93 14.63 18.7 10.67 19.9 8.67Z" fill="#fff" filter="url(#b1)"/>
<g filter="url(#b07)" fill="#fff">
<ellipse cx="10.6" cy="32.8" rx="1.6" ry="1.36"/>
<ellipse cx="30.6" cy="32.8" rx="1.6" ry="1.36"/>
<ellipse cx="19.1" cy="84" rx="2.2" ry="2.6"/>
<path d="M8 81.8 Q7 85.3 4 87.8" stroke="#f6f6f6" stroke-width="2.2" fill="none" stroke-linecap="round"/>
<path d="M29.6 79.3 Q30.6 82.8 33.6 85.3" stroke="#f6f6f6" stroke-width="2.2" fill="none" stroke-linecap="round"/>
<circle cx="13.38" cy="71" r="1.3" fill="#c4c4c4"/>
<circle cx="25.38" cy="72" r="1.3" fill="#c4c4c4"/>
<circle cx="16.88" cy="77" r="1" fill="#c4c4c4"/>
<circle cx="22.38" cy="78" r="1" fill="#c4c4c4"/>
<circle cx="9.38" cy="79" r="1.1" fill="#c4c4c4"/>
<circle cx="29.38" cy="80" r="1.1" fill="#c4c4c4"/>
</g>
<path d="M18.1 86.2 Q12.1 91.8 6.1 90.05 T0.1 91.1" fill="none" stroke="#dcdcdc" stroke-width="1.15" opacity="0.85" filter="url(#b05)"/>
<rect x="38.22" width="1.1" height="93.3" fill="#303030" opacity="0.85"/>
<rect x="37.32" width="0.9" height="93.3" fill="#9a9a9a" opacity="0.55"/>
<rect x="0" width="0.8" height="93.3" fill="#8c8c8c" opacity="0.35"/></svg>
<svg x="39.32" y="0" width="39.32" height="93.3" overflow="visible"><rect x="19.48" y="1" width="2.2" height="10.62" fill="#c8c8c8" opacity="0.75" filter="url(#b05)"/>
<path d="M20.58 7.62 C21.78 9.62 23.15 14.06 22.95 17.06 C22.55 19.86 18.61 19.86 18.21 17.06 C18.01 14.06 19.38 9.62 20.58 7.62Z" fill="#fff" filter="url(#b1)"/>
<g filter="url(#b07)" fill="#fff">
<ellipse cx="9.68" cy="33" rx="1.6" ry="1.36"/>
<ellipse cx="32.28" cy="30.3" rx="2.08" ry="1.12"/>
<ellipse cx="17.28" cy="82.8" rx="2.2" ry="2.6"/>
<path d="M7.68 79.3 Q6.68 82.8 3.68 85.3" stroke="#f6f6f6" stroke-width="2.2" fill="none" stroke-linecap="round"/>
<path d="M30.28 80.5 Q31.28 84 34.28 86.5" stroke="#f6f6f6" stroke-width="2.2" fill="none" stroke-linecap="round"/>
<circle cx="12.43" cy="71" r="1.3" fill="#c4c4c4"/>
<circle cx="24.43" cy="72" r="1.3" fill="#c4c4c4"/>
<circle cx="15.93" cy="77" r="1" fill="#c4c4c4"/>
<circle cx="21.43" cy="78" r="1" fill="#c4c4c4"/>
<circle cx="8.43" cy="79" r="1.1" fill="#c4c4c4"/>
<circle cx="28.43" cy="80" r="1.1" fill="#c4c4c4"/>
</g>
<path d="M18.28 85 Q24.28 91.8 30.28 89.8 T36.28 91.1" fill="none" stroke="#dcdcdc" stroke-width="1.15" opacity="0.85" filter="url(#b05)"/>
<rect x="38.22" width="1.1" height="93.3" fill="#303030" opacity="0.85"/>
<rect x="37.32" width="0.9" height="93.3" fill="#9a9a9a" opacity="0.55"/>
<rect x="0" width="0.8" height="93.3" fill="#8c8c8c" opacity="0.35"/></svg>
<svg x="78.64" y="0" width="39.32" height="93.3" overflow="visible"><rect x="20.86" y="1" width="2.2" height="11.28" fill="#c8c8c8" opacity="0.75" filter="url(#b05)"/>
<path d="M21.96 8.28 C23.16 10.28 24.57 14.78 24.37 17.78 C23.97 20.58 19.95 20.58 19.55 17.78 C19.35 14.78 20.76 10.28 21.96 8.28Z" fill="#fff" filter="url(#b1)"/>
<g filter="url(#b07)" fill="#fff">
<ellipse cx="14.96" cy="36" rx="1.6" ry="1.36"/>
<ellipse cx="33.76" cy="37.8" rx="2.08" ry="1.2"/>
<ellipse cx="21.26" cy="85.3" rx="2.2" ry="2.6"/>
<path d="M7.86 81.8 Q6.86 85.3 3.86 87.8" stroke="#f6f6f6" stroke-width="2.2" fill="none" stroke-linecap="round"/>
<path d="M30.86 82.5 Q31.86 86 34.86 88.5" stroke="#f6f6f6" stroke-width="2.2" fill="none" stroke-linecap="round"/>
<circle cx="15.32" cy="71" r="1.3" fill="#c4c4c4"/>
<circle cx="27.32" cy="72" r="1.3" fill="#c4c4c4"/>
<circle cx="18.82" cy="77" r="1" fill="#c4c4c4"/>
<circle cx="24.32" cy="78" r="1" fill="#c4c4c4"/>
<circle cx="11.32" cy="79" r="1.1" fill="#c4c4c4"/>
<circle cx="31.32" cy="80" r="1.1" fill="#c4c4c4"/>
</g>
<path d="M22.26 87.5 Q28.26 91.8 34.26 91.05 T40.26 91.1" fill="none" stroke="#dcdcdc" stroke-width="1.15" opacity="0.85" filter="url(#b05)"/>
<rect x="38.22" width="1.1" height="93.3" fill="#303030" opacity="0.85"/>
<rect x="37.32" width="0.9" height="93.3" fill="#9a9a9a" opacity="0.55"/>
<rect x="0" width="0.8" height="93.3" fill="#8c8c8c" opacity="0.35"/></svg>
<svg x="117.96" y="0" width="39.32" height="93.3" overflow="visible"><rect x="21.54" y="1" width="2.2" height="10.93" fill="#c8c8c8" opacity="0.75" filter="url(#b05)"/>
<path d="M22.64 7.93 C23.84 9.93 25.14 14.39 24.94 17.39 C24.54 20.19 20.74 20.19 20.34 17.39 C20.14 14.39 21.44 9.93 22.64 7.93Z" fill="#fff" filter="url(#b1)"/>
<g filter="url(#b07)" fill="#fff">
<ellipse cx="10.04" cy="34" rx="1.6" ry="1.36"/>
<ellipse cx="38.64" cy="36" rx="1.28" ry="1.28"/>
<ellipse cx="25.64" cy="84" rx="2.2" ry="2.6"/>
<path d="M14.14 79.3 Q13.14 82.8 10.14 85.3" stroke="#f6f6f6" stroke-width="2.2" fill="none" stroke-linecap="round"/>
<path d="M33.44 80.5 Q34.44 84 37.44 86.5" stroke="#f6f6f6" stroke-width="2.2" fill="none" stroke-linecap="round"/>
<circle cx="15.32" cy="71" r="1.3" fill="#c4c4c4"/>
<circle cx="27.32" cy="72" r="1.3" fill="#c4c4c4"/>
<circle cx="18.82" cy="77" r="1" fill="#c4c4c4"/>
<circle cx="24.32" cy="78" r="1" fill="#c4c4c4"/>
<circle cx="11.32" cy="79" r="1.1" fill="#c4c4c4"/>
<circle cx="31.32" cy="80" r="1.1" fill="#c4c4c4"/>
</g>
<path d="M26.64 86.2 Q32.64 91.8 38.64 89.67 T44.64 91.1" fill="none" stroke="#dcdcdc" stroke-width="1.15" opacity="0.85" filter="url(#b05)"/>
<rect x="38.22" width="1.1" height="93.3" fill="#303030" opacity="0.85"/>
<rect x="37.32" width="0.9" height="93.3" fill="#9a9a9a" opacity="0.55"/>
<rect x="0" width="0.8" height="93.3" fill="#8c8c8c" opacity="0.35"/></svg>
<svg x="157.28" y="0" width="39.32" height="93.3" overflow="visible"><rect x="22.22" y="1" width="2.2" height="11.17" fill="#c8c8c8" opacity="0.75" filter="url(#b05)"/>
<path d="M23.32 8.17 C24.52 10.17 26.09 14.24 25.89 17.24 C25.49 20.04 21.15 20.04 20.75 17.24 C20.55 14.24 22.12 10.17 23.32 8.17Z" fill="#fff" filter="url(#b1)"/>
<g filter="url(#b07)" fill="#fff">
<ellipse cx="9.72" cy="35" rx="1.6" ry="1.36"/>
<ellipse cx="33.82" cy="33.5" rx="1.6" ry="1.36"/>
<ellipse cx="21.32" cy="87" rx="2.2" ry="2.6"/>
<path d="M9.22 81.8 Q8.22 85.3 5.22 87.8" stroke="#f6f6f6" stroke-width="2.2" fill="none" stroke-linecap="round"/>
<path d="M32.62 79.3 Q33.62 82.8 36.62 85.3" stroke="#f6f6f6" stroke-width="2.2" fill="none" stroke-linecap="round"/>
<circle cx="15.32" cy="71" r="1.3" fill="#c4c4c4"/>
<circle cx="27.32" cy="72" r="1.3" fill="#c4c4c4"/>
<circle cx="18.82" cy="77" r="1" fill="#c4c4c4"/>
<circle cx="24.32" cy="78" r="1" fill="#c4c4c4"/>
<circle cx="11.32" cy="79" r="1.1" fill="#c4c4c4"/>
<circle cx="31.32" cy="80" r="1.1" fill="#c4c4c4"/>
</g>
<path d="M22.32 89.2 Q28.32 91.8 34.32 89.71 T40.32 91.1" fill="none" stroke="#dcdcdc" stroke-width="1.15" opacity="0.85" filter="url(#b05)"/>
<rect x="38.22" width="1.1" height="93.3" fill="#303030" opacity="0.85"/>
<rect x="37.32" width="0.9" height="93.3" fill="#9a9a9a" opacity="0.55"/>
<rect x="0" width="0.8" height="93.3" fill="#8c8c8c" opacity="0.35"/></svg>
</svg>
<svg x="557.4" y="151.3" width="196.6" height="93" overflow="hidden">
<svg x="0" y="0" width="39.32" height="93" overflow="hidden">
<rect width="39.32" height="93" fill="#8e8e8e"/>
<rect width="39.32" height="20" fill="#6e6e6e"/>
<rect x="12" y="1" width="1.8" height="18.5" fill="#a4a4a4"/>
<rect x="15.2" y="1" width="1.4" height="18.5" fill="#909090"/>
<rect x="22.8" y="1" width="1.4" height="18.5" fill="#909090"/>
<rect x="25.8" y="1" width="1.8" height="18.5" fill="#a4a4a4"/>
<rect x="3.7" y="-4" width="6.8" height="24.6" rx="2.4" fill="#161616"/>
<rect x="6.4" y="1" width="1.4" height="17.2" rx="0.7" fill="#9c9c9c" opacity="0.85"/>
<rect x="30.1" y="-4" width="6.8" height="24.6" rx="2.4" fill="#161616"/>
<rect x="32.8" y="1" width="1.4" height="17.2" rx="0.7" fill="#9c9c9c" opacity="0.85"/>
<path d="M19.98 16 C29.98 16 33.98 19.5 35.48 30.5 C36.48 43.5 37.81 51.5 37.81 67.5 C37.81 81.5 31.98 90.5 19.98 90.5 C7.98 90.5 2.14 81.5 2.14 67.5 C2.14 51.5 3.48 43.5 4.48 30.5 C5.98 19.5 9.98 16 19.98 16Z" fill="#363636" filter="url(#b15)"/>
<g filter="url(#b3)">
<ellipse cx="20.23" cy="62.5" rx="13.5" ry="22" fill="#767676"/>
<ellipse cx="19.98" cy="27.5" rx="5" ry="4" fill="#5a5a5a"/>
</g>
<g filter="url(#b15)" fill="#8e8e8e" opacity="0.8">
<ellipse cx="10.98" cy="76.5" rx="4" ry="5"/>
<ellipse cx="28.98" cy="76.5" rx="4" ry="5"/>
<ellipse cx="20.23" cy="53.5" rx="6" ry="9"/>
<ellipse cx="19.98" cy="84.5" rx="11" ry="4.5" opacity="0.7"/>
</g>
<g filter="url(#b1)" fill="#9a9a9a">
<ellipse cx="8.48" cy="24.5" rx="2.3" ry="3"/>
<ellipse cx="31.48" cy="24.5" rx="2.3" ry="3"/>
</g>
<rect y="88.5" width="39.32" height="3.2" fill="#858585" opacity="0.5"/>
<rect y="91.7" width="39.32" height="1.3" fill="#3c3c3c"/>
<rect width="39.32" height="1.4" fill="#242424"/>
</svg>
<svg x="39.32" y="0" width="39.32" height="93" overflow="hidden">
<rect width="39.32" height="93" fill="#8e8e8e"/>
<rect width="39.32" height="20" fill="#6e6e6e"/>
<rect x="12" y="1" width="1.8" height="18.5" fill="#a4a4a4"/>
<rect x="15.2" y="1" width="1.4" height="18.5" fill="#909090"/>
<rect x="22.8" y="1" width="1.4" height="18.5" fill="#909090"/>
<rect x="25.8" y="1" width="1.8" height="18.5" fill="#a4a4a4"/>
<rect x="3.7" y="-4" width="6.8" height="24.6" rx="2.4" fill="#161616"/>
<rect x="6.4" y="1" width="1.4" height="17.2" rx="0.7" fill="#9c9c9c" opacity="0.85"/>
<rect x="30.1" y="-4" width="6.8" height="24.6" rx="2.4" fill="#161616"/>
<rect x="32.8" y="1" width="1.4" height="17.2" rx="0.7" fill="#9c9c9c" opacity="0.85"/>
<path d="M21.32 16 C31.32 16 35.32 19.5 36.82 30.5 C37.82 43.5 39.19 51.5 39.19 67.5 C39.19 81.5 33.32 90.5 21.32 90.5 C9.32 90.5 3.45 81.5 3.45 67.5 C3.45 51.5 4.82 43.5 5.82 30.5 C7.32 19.5 11.32 16 21.32 16Z" fill="#363636" filter="url(#b15)"/>
<g filter="url(#b3)">
<ellipse cx="19.98" cy="62.5" rx="13.5" ry="22" fill="#767676"/>
<ellipse cx="21.32" cy="27.5" rx="5" ry="4" fill="#5a5a5a"/>
</g>
<g filter="url(#b15)" fill="#8e8e8e" opacity="0.8">
<ellipse cx="12.32" cy="76.5" rx="4" ry="5"/>
<ellipse cx="30.32" cy="76.5" rx="4" ry="5"/>
<ellipse cx="19.98" cy="53.5" rx="6" ry="9"/>
<ellipse cx="21.32" cy="84.5" rx="11" ry="4.5" opacity="0.7"/>
</g>
<g filter="url(#b1)" fill="#9a9a9a">
<ellipse cx="9.82" cy="24.5" rx="2.3" ry="3"/>
<ellipse cx="32.82" cy="24.5" rx="2.3" ry="3"/>
</g>
<rect y="88.5" width="39.32" height="3.2" fill="#858585" opacity="0.5"/>
<rect y="91.7" width="39.32" height="1.3" fill="#3c3c3c"/>
<rect width="39.32" height="1.4" fill="#242424"/>
</svg>
<svg x="78.64" y="0" width="39.32" height="93" overflow="hidden">
<rect width="39.32" height="93" fill="#8e8e8e"/>
<rect width="39.32" height="20" fill="#6e6e6e"/>
<rect x="12" y="1" width="1.8" height="18.5" fill="#a4a4a4"/>
<rect x="15.2" y="1" width="1.4" height="18.5" fill="#909090"/>
<rect x="22.8" y="1" width="1.4" height="18.5" fill="#909090"/>
<rect x="25.8" y="1" width="1.8" height="18.5" fill="#a4a4a4"/>
<rect x="3.7" y="-4" width="6.8" height="24.6" rx="2.4" fill="#161616"/>
<rect x="6.4" y="1" width="1.4" height="17.2" rx="0.7" fill="#9c9c9c" opacity="0.85"/>
<rect x="30.1" y="-4" width="6.8" height="24.6" rx="2.4" fill="#161616"/>
<rect x="32.8" y="1" width="1.4" height="17.2" rx="0.7" fill="#9c9c9c" opacity="0.85"/>
<path d="M21.32 16 C31.32 16 35.32 19.5 36.82 30.5 C37.82 43.5 39.34 51.5 39.34 67.5 C39.34 81.5 33.32 90.5 21.32 90.5 C9.32 90.5 3.3 81.5 3.3 67.5 C3.3 51.5 4.82 43.5 5.82 30.5 C7.32 19.5 11.32 16 21.32 16Z" fill="#363636" filter="url(#b15)"/>
<g filter="url(#b3)">
<ellipse cx="21.81" cy="62.5" rx="13.5" ry="22" fill="#767676"/>
<ellipse cx="21.32" cy="27.5" rx="5" ry="4" fill="#5a5a5a"/>
</g>
<g filter="url(#b15)" fill="#8e8e8e" opacity="0.8">
<ellipse cx="12.32" cy="76.5" rx="4" ry="5"/>
<ellipse cx="30.32" cy="76.5" rx="4" ry="5"/>
<ellipse cx="21.81" cy="53.5" rx="6" ry="9"/>
<ellipse cx="21.32" cy="84.5" rx="11" ry="4.5" opacity="0.7"/>
</g>
<g filter="url(#b1)" fill="#9a9a9a">
<ellipse cx="9.82" cy="24.5" rx="2.3" ry="3"/>
<ellipse cx="32.82" cy="24.5" rx="2.3" ry="3"/>
</g>
<rect y="88.5" width="39.32" height="3.2" fill="#858585" opacity="0.5"/>
<rect y="91.7" width="39.32" height="1.3" fill="#3c3c3c"/>
<rect width="39.32" height="1.4" fill="#242424"/>
</svg>
<svg x="117.96" y="0" width="39.32" height="93" overflow="hidden">
<rect width="39.32" height="93" fill="#8e8e8e"/>
<rect width="39.32" height="20" fill="#6e6e6e"/>
<rect x="12" y="1" width="1.8" height="18.5" fill="#a4a4a4"/>
<rect x="15.2" y="1" width="1.4" height="18.5" fill="#909090"/>
<rect x="22.8" y="1" width="1.4" height="18.5" fill="#909090"/>
<rect x="25.8" y="1" width="1.8" height="18.5" fill="#a4a4a4"/>
<rect x="3.7" y="-4" width="6.8" height="24.6" rx="2.4" fill="#161616"/>
<rect x="6.4" y="1" width="1.4" height="17.2" rx="0.7" fill="#9c9c9c" opacity="0.85"/>
<rect x="30.1" y="-4" width="6.8" height="24.6" rx="2.4" fill="#161616"/>
<rect x="32.8" y="1" width="1.4" height="17.2" rx="0.7" fill="#9c9c9c" opacity="0.85"/>
<path d="M21.32 16 C31.32 16 35.32 19.5 36.82 30.5 C37.82 43.5 39.25 51.5 39.25 67.5 C39.25 81.5 33.32 90.5 21.32 90.5 C9.32 90.5 3.39 81.5 3.39 67.5 C3.39 51.5 4.82 43.5 5.82 30.5 C7.32 19.5 11.32 16 21.32 16Z" fill="#363636" filter="url(#b15)"/>
<g filter="url(#b3)">
<ellipse cx="21.05" cy="62.5" rx="13.5" ry="22" fill="#767676"/>
<ellipse cx="21.32" cy="27.5" rx="5" ry="4" fill="#5a5a5a"/>
</g>
<g filter="url(#b15)" fill="#8e8e8e" opacity="0.8">
<ellipse cx="12.32" cy="76.5" rx="4" ry="5"/>
<ellipse cx="30.32" cy="76.5" rx="4" ry="5"/>
<ellipse cx="21.05" cy="53.5" rx="6" ry="9"/>
<ellipse cx="21.32" cy="84.5" rx="11" ry="4.5" opacity="0.7"/>
</g>
<g filter="url(#b1)" fill="#9a9a9a">
<ellipse cx="9.82" cy="24.5" rx="2.3" ry="3"/>
<ellipse cx="32.82" cy="24.5" rx="2.3" ry="3"/>
</g>
<rect y="88.5" width="39.32" height="3.2" fill="#858585" opacity="0.5"/>
<rect y="91.7" width="39.32" height="1.3" fill="#3c3c3c"/>
<rect width="39.32" height="1.4" fill="#242424"/>
</svg>
<svg x="157.28" y="0" width="39.32" height="93" overflow="hidden">
<rect width="39.32" height="93" fill="#8e8e8e"/>
<rect width="39.32" height="20" fill="#6e6e6e"/>
<rect x="12" y="1" width="1.8" height="18.5" fill="#a4a4a4"/>
<rect x="15.2" y="1" width="1.4" height="18.5" fill="#909090"/>
<rect x="22.8" y="1" width="1.4" height="18.5" fill="#909090"/>
<rect x="25.8" y="1" width="1.8" height="18.5" fill="#a4a4a4"/>
<rect x="3.7" y="-4" width="6.8" height="24.6" rx="2.4" fill="#161616"/>
<rect x="6.4" y="1" width="1.4" height="17.2" rx="0.7" fill="#9c9c9c" opacity="0.85"/>
<rect x="30.1" y="-4" width="6.8" height="24.6" rx="2.4" fill="#161616"/>
<rect x="32.8" y="1" width="1.4" height="17.2" rx="0.7" fill="#9c9c9c" opacity="0.85"/>
<path d="M21.14 16 C31.14 16 35.14 19.5 36.64 30.5 C37.64 43.5 39.1 51.5 39.1 67.5 C39.1 81.5 33.14 90.5 21.14 90.5 C9.14 90.5 3.19 81.5 3.19 67.5 C3.19 51.5 4.64 43.5 5.64 30.5 C7.14 19.5 11.14 16 21.14 16Z" fill="#363636" filter="url(#b15)"/>
<g filter="url(#b3)">
<ellipse cx="21.18" cy="62.5" rx="13.5" ry="22" fill="#767676"/>
<ellipse cx="21.14" cy="27.5" rx="5" ry="4" fill="#5a5a5a"/>
</g>
<g filter="url(#b15)" fill="#8e8e8e" opacity="0.8">
<ellipse cx="12.14" cy="76.5" rx="4" ry="5"/>
<ellipse cx="30.14" cy="76.5" rx="4" ry="5"/>
<ellipse cx="21.18" cy="53.5" rx="6" ry="9"/>
<ellipse cx="21.14" cy="84.5" rx="11" ry="4.5" opacity="0.7"/>
</g>
<g filter="url(#b1)" fill="#9a9a9a">
<ellipse cx="9.64" cy="24.5" rx="2.3" ry="3"/>
<ellipse cx="32.64" cy="24.5" rx="2.3" ry="3"/>
</g>
<rect y="88.5" width="39.32" height="3.2" fill="#858585" opacity="0.5"/>
<rect y="91.7" width="39.32" height="1.3" fill="#3c3c3c"/>
<rect width="39.32" height="1.4" fill="#242424"/>
</svg>
<rect width="196.6" height="93" filter="url(#noiseO)" style="mix-blend-mode:overlay" opacity="0.9"/>
<svg x="0" y="0" width="39.32" height="93" overflow="visible"><rect x="20.5" y="1" width="2.2" height="13.09" fill="#c8c8c8" opacity="0.75" filter="url(#b05)"/>
<path d="M21.6 10.09 C22.8 12.09 24.6 15.65 24.4 18.65 C24 21.45 19.2 21.45 18.8 18.65 C18.6 15.65 20.4 12.09 21.6 10.09Z" fill="#fff" filter="url(#b1)"/>
<g filter="url(#b07)" fill="#fff">
<ellipse cx="11.6" cy="36.2" rx="1.6" ry="1.36"/>
<ellipse cx="28.6" cy="36.2" rx="1.6" ry="1.36"/>
<ellipse cx="19.1" cy="88.5" rx="2.2" ry="2.6"/>
<path d="M8.5 82 Q7.5 85.5 4.5 88" stroke="#f6f6f6" stroke-width="2.2" fill="none" stroke-linecap="round"/>
<path d="M30.9 82 Q31.9 85.5 34.9 88" stroke="#f6f6f6" stroke-width="2.2" fill="none" stroke-linecap="round"/>
<circle cx="13.98" cy="72.5" r="1.3" fill="#c4c4c4"/>
<circle cx="25.98" cy="73.5" r="1.3" fill="#c4c4c4"/>
<circle cx="17.48" cy="78.5" r="1" fill="#c4c4c4"/>
<circle cx="22.98" cy="79.5" r="1" fill="#c4c4c4"/>
<circle cx="9.98" cy="80.5" r="1.1" fill="#c4c4c4"/>
<circle cx="29.98" cy="81.5" r="1.1" fill="#c4c4c4"/>
</g>
<path d="M18.1 90 Q12.1 91.5 6.1 89.24 T0.1 90.8" fill="none" stroke="#dcdcdc" stroke-width="1.15" opacity="0.85" filter="url(#b05)"/>
<rect x="38.22" width="1.1" height="93" fill="#303030" opacity="0.85"/>
<rect x="37.32" width="0.9" height="93" fill="#9a9a9a" opacity="0.55"/>
<rect x="0" width="0.8" height="93" fill="#8c8c8c" opacity="0.35"/></svg>
<svg x="39.32" y="0" width="39.32" height="93" overflow="visible"><rect x="21.18" y="1" width="2.2" height="12.71" fill="#c8c8c8" opacity="0.75" filter="url(#b05)"/>
<path d="M22.28 9.71 C23.48 11.71 24.96 15.35 24.76 18.35 C24.36 21.15 20.2 21.15 19.8 18.35 C19.6 15.35 21.08 11.71 22.28 9.71Z" fill="#fff" filter="url(#b1)"/>
<g filter="url(#b07)" fill="#fff">
<ellipse cx="17.28" cy="34.2" rx="1.6" ry="1.36"/>
<ellipse cx="33.78" cy="34.7" rx="1.6" ry="1.36"/>
<ellipse cx="23.78" cy="87.2" rx="2.2" ry="2.6"/>
<path d="M12.08 80.7 Q11.08 84.2 8.08 86.7" stroke="#f6f6f6" stroke-width="2.2" fill="none" stroke-linecap="round"/>
<path d="M32.78 82 Q33.78 85.5 36.78 88" stroke="#f6f6f6" stroke-width="2.2" fill="none" stroke-linecap="round"/>
<circle cx="15.32" cy="72.5" r="1.3" fill="#c4c4c4"/>
<circle cx="27.32" cy="73.5" r="1.3" fill="#c4c4c4"/>
<circle cx="18.82" cy="78.5" r="1" fill="#c4c4c4"/>
<circle cx="24.32" cy="79.5" r="1" fill="#c4c4c4"/>
<circle cx="11.32" cy="80.5" r="1.1" fill="#c4c4c4"/>
<circle cx="31.32" cy="81.5" r="1.1" fill="#c4c4c4"/>
</g>
<path d="M22.78 89.4 Q16.78 91.5 10.78 89.02 T4.78 90.8" fill="none" stroke="#dcdcdc" stroke-width="1.15" opacity="0.85" filter="url(#b05)"/>
<rect x="38.22" width="1.1" height="93" fill="#303030" opacity="0.85"/>
<rect x="37.32" width="0.9" height="93" fill="#9a9a9a" opacity="0.55"/>
<rect x="0" width="0.8" height="93" fill="#8c8c8c" opacity="0.35"/></svg>
<svg x="78.64" y="0" width="39.32" height="93" overflow="visible"><rect x="21.36" y="1" width="2.2" height="12.47" fill="#c8c8c8" opacity="0.75" filter="url(#b05)"/>
<path d="M22.46 9.47 C23.66 11.47 25.11 16.01 24.91 19.01 C24.51 21.81 20.41 21.81 20.01 19.01 C19.81 16.01 21.26 11.47 22.46 9.47Z" fill="#fff" filter="url(#b1)"/>
<g filter="url(#b07)" fill="#fff">
<ellipse cx="16.26" cy="34.2" rx="1.6" ry="1.36"/>
<ellipse cx="31.96" cy="35.5" rx="1.6" ry="1.36"/>
<ellipse cx="21.26" cy="86.7" rx="2.2" ry="2.6"/>
<path d="M10.86 80.7 Q9.86 84.2 6.86 86.7" stroke="#f6f6f6" stroke-width="2.2" fill="none" stroke-linecap="round"/>
<path d="M32.26 82 Q33.26 85.5 36.26 88" stroke="#f6f6f6" stroke-width="2.2" fill="none" stroke-linecap="round"/>
<circle cx="15.32" cy="72.5" r="1.3" fill="#c4c4c4"/>
<circle cx="27.32" cy="73.5" r="1.3" fill="#c4c4c4"/>
<circle cx="18.82" cy="78.5" r="1" fill="#c4c4c4"/>
<circle cx="24.32" cy="79.5" r="1" fill="#c4c4c4"/>
<circle cx="11.32" cy="80.5" r="1.1" fill="#c4c4c4"/>
<circle cx="31.32" cy="81.5" r="1.1" fill="#c4c4c4"/>
</g>
<path d="M20.26 88.9 Q14.26 91.5 8.26 89.98 T2.26 90.8" fill="none" stroke="#dcdcdc" stroke-width="1.15" opacity="0.85" filter="url(#b05)"/>
<rect x="38.22" width="1.1" height="93" fill="#303030" opacity="0.85"/>
<rect x="37.32" width="0.9" height="93" fill="#9a9a9a" opacity="0.55"/>
<rect x="0" width="0.8" height="93" fill="#8c8c8c" opacity="0.35"/></svg>
<svg x="117.96" y="0" width="39.32" height="93" overflow="visible"><rect x="18.34" y="1" width="2.2" height="13.15" fill="#c8c8c8" opacity="0.75" filter="url(#b05)"/>
<path d="M19.44 10.15 C20.64 12.15 22.08 15.3 21.88 18.3 C21.48 21.1 17.4 21.1 17 18.3 C16.8 15.3 18.24 12.15 19.44 10.15Z" fill="#fff" filter="url(#b1)"/>
<g filter="url(#b07)" fill="#fff">
<ellipse cx="10.14" cy="35.5" rx="1.6" ry="1.36"/>
<ellipse cx="30.14" cy="36.2" rx="1.6" ry="1.36"/>
<ellipse cx="22.64" cy="88" rx="2.2" ry="2.6"/>
<path d="M11.04 80.7 Q10.04 84.2 7.04 86.7" stroke="#f6f6f6" stroke-width="2.2" fill="none" stroke-linecap="round"/>
<path d="M32.94 82 Q33.94 85.5 36.94 88" stroke="#f6f6f6" stroke-width="2.2" fill="none" stroke-linecap="round"/>
<circle cx="15.32" cy="72.5" r="1.3" fill="#c4c4c4"/>
<circle cx="27.32" cy="73.5" r="1.3" fill="#c4c4c4"/>
<circle cx="18.82" cy="78.5" r="1" fill="#c4c4c4"/>
<circle cx="24.32" cy="79.5" r="1" fill="#c4c4c4"/>
<circle cx="11.32" cy="80.5" r="1.1" fill="#c4c4c4"/>
<circle cx="31.32" cy="81.5" r="1.1" fill="#c4c4c4"/>
</g>
<path d="M21.64 90 Q15.64 91.5 9.64 90.18 T3.64 90.8" fill="none" stroke="#dcdcdc" stroke-width="1.15" opacity="0.85" filter="url(#b05)"/>
<rect x="38.22" width="1.1" height="93" fill="#303030" opacity="0.85"/>
<rect x="37.32" width="0.9" height="93" fill="#9a9a9a" opacity="0.55"/>
<rect x="0" width="0.8" height="93" fill="#8c8c8c" opacity="0.35"/></svg>
<svg x="157.28" y="0" width="39.32" height="93" overflow="visible"><rect x="19.72" y="1" width="2.2" height="13.24" fill="#c8c8c8" opacity="0.75" filter="url(#b05)"/>
<path d="M20.82 10.24 C22.02 12.24 23.4 16.01 23.2 19.01 C22.8 21.81 18.84 21.81 18.44 19.01 C18.24 16.01 19.62 12.24 20.82 10.24Z" fill="#fff" filter="url(#b1)"/>
<g filter="url(#b07)" fill="#fff">
<ellipse cx="13.82" cy="33.7" rx="2.08" ry="1.2"/>
<ellipse cx="29.32" cy="34.2" rx="1.6" ry="1.36"/>
<ellipse cx="21.32" cy="88.5" rx="2.2" ry="2.6"/>
<path d="M10.72 83.2 Q9.72 86.7 6.72 89.2" stroke="#f6f6f6" stroke-width="2.2" fill="none" stroke-linecap="round"/>
<path d="M32.32 82 Q33.32 85.5 36.32 88" stroke="#f6f6f6" stroke-width="2.2" fill="none" stroke-linecap="round"/>
<circle cx="15.14" cy="72.5" r="1.3" fill="#c4c4c4"/>
<circle cx="27.14" cy="73.5" r="1.3" fill="#c4c4c4"/>
<circle cx="18.64" cy="78.5" r="1" fill="#c4c4c4"/>
<circle cx="24.14" cy="79.5" r="1" fill="#c4c4c4"/>
<circle cx="11.14" cy="80.5" r="1.1" fill="#c4c4c4"/>
<circle cx="31.14" cy="81.5" r="1.1" fill="#c4c4c4"/>
</g>
<path d="M22.32 90 Q28.32 91.5 34.32 90.72 T40.32 90.8" fill="none" stroke="#dcdcdc" stroke-width="1.15" opacity="0.85" filter="url(#b05)"/>
<rect x="38.22" width="1.1" height="93" fill="#303030" opacity="0.85"/>
<rect x="37.32" width="0.9" height="93" fill="#9a9a9a" opacity="0.55"/>
<rect x="0" width="0.8" height="93" fill="#8c8c8c" opacity="0.35"/></svg>
</svg>
<g filter="url(#b05)">
<ellipse cx="372.7" cy="93.7" rx="1.5" ry="2.3" fill="#3c35c8" opacity="0.9"/>
<ellipse cx="374.5" cy="90" rx="1" ry="1.2" fill="#6a3fc0" opacity="0.7"/>
<ellipse cx="407.7" cy="89" rx="1.7" ry="2.4" fill="#3c35c8" opacity="0.9"/>
<ellipse cx="419" cy="95.8" rx="1.6" ry="1.8" fill="#3c35c8" opacity="0.9"/>
<ellipse cx="498.7" cy="88.7" rx="1.2" ry="1.6" fill="#3c35c8" opacity="0.9"/>
<ellipse cx="500.8" cy="95.8" rx="2.2" ry="2.3" fill="#3c35c8" opacity="0.9"/>
<ellipse cx="489.4" cy="95.8" rx="1" ry="1.2" fill="#3c35c8" opacity="0.9"/>
<ellipse cx="538" cy="90" rx="1.3" ry="2" fill="#3c35c8" opacity="0.9"/>
<ellipse cx="448.7" cy="187.4" rx="1.8" ry="2.6" fill="#3c35c8" opacity="0.9"/>
<ellipse cx="460.9" cy="197.2" rx="1" ry="1" fill="#3c35c8" opacity="0.9"/>
<ellipse cx="612" cy="195.2" rx="3.3" ry="2.8" fill="#3c35c8" opacity="0.9"/>
<ellipse cx="615.6" cy="188.4" rx="1.6" ry="1.8" fill="#3c35c8" opacity="0.9"/>
<ellipse cx="621" cy="195.8" rx="2" ry="1.5" fill="#3c35c8" opacity="0.9"/>
<ellipse cx="625.9" cy="195" rx="0.9" ry="0.9" fill="#3c35c8" opacity="0.9"/>
<ellipse cx="649.5" cy="194.9" rx="2.6" ry="2.2" fill="#3c35c8" opacity="0.9"/>
<ellipse cx="653.4" cy="187.4" rx="1.6" ry="2.2" fill="#3c35c8" opacity="0.9"/>
<ellipse cx="656" cy="187.4" rx="1.5" ry="2.5" fill="#3c35c8" opacity="0.9"/>
<ellipse cx="662.9" cy="190.3" rx="1.4" ry="2.2" fill="#3c35c8" opacity="0.9"/>
<ellipse cx="659.3" cy="195.8" rx="1.3" ry="1.8" fill="#3c35c8" opacity="0.9"/>
<ellipse cx="729.8" cy="190.3" rx="1" ry="1.3" fill="#3c35c8" opacity="0.9"/>
<ellipse cx="740.6" cy="195.2" rx="1.5" ry="1.6" fill="#3c35c8" opacity="0.9"/>
</g>
<g filter="url(#b05)">
<path d="M574.7 86.3 C575.58 86.4 576.98 87.05 577.6 88 C578.22 88.95 578.47 90.77 578.4 92 C578.33 93.23 577.85 94.73 577.2 95.4 C576.55 96.07 575.43 96.1 574.5 96 C573.57 95.9 572.18 95.72 571.6 94.8 C571.02 93.88 570.88 91.73 571 90.5 C571.12 89.27 571.68 88.1 572.3 87.4 C572.92 86.7 573.82 86.2 574.7 86.3Z" fill="#8a40b4" opacity="0.85"/>
<path d="M574.69 87.4 C575.38 87.48 576.47 87.98 576.95 88.73 C577.43 89.47 577.63 90.88 577.58 91.85 C577.53 92.81 577.15 93.98 576.64 94.5 C576.13 95.02 575.26 95.04 574.54 94.97 C573.81 94.89 572.73 94.75 572.27 94.03 C571.82 93.31 571.71 91.64 571.81 90.68 C571.9 89.71 572.34 88.8 572.82 88.26 C573.3 87.71 574 87.32 574.69 87.4Z" fill="#3034c4"/>
<path d="M614.75 80 C616.15 79.64 618.33 79.47 620 79.6 C621.67 79.73 623.54 79.82 624.75 80.8 C625.96 81.78 626.88 83.63 627.25 85.5 C627.62 87.37 627.21 90.12 627 92 C626.79 93.88 627 95.54 626 96.75 C625 97.96 622.58 99.11 621 99.25 C619.42 99.39 617.96 97.77 616.5 97.6 C615.04 97.42 613.67 98.34 612.25 98.2 C610.83 98.06 608.89 97.83 608 96.75 C607.11 95.67 606.77 93.62 606.9 91.75 C607.03 89.88 608.02 87.17 608.8 85.5 C609.58 83.83 610.61 82.67 611.6 81.75 C612.59 80.83 613.35 80.36 614.75 80Z" fill="#8a40b4" opacity="0.85"/>
<path d="M615 80.97 C616.26 80.64 618.23 80.48 619.73 80.6 C621.23 80.72 622.92 80.8 624 81.69 C625.09 82.57 625.92 84.24 626.25 85.92 C626.59 87.59 626.22 90.08 626.03 91.77 C625.84 93.45 626.03 94.95 625.13 96.04 C624.23 97.13 622.05 98.16 620.63 98.29 C619.2 98.42 617.89 96.96 616.58 96.8 C615.27 96.65 614.03 97.47 612.75 97.34 C611.48 97.22 609.73 97.01 608.93 96.04 C608.13 95.07 607.82 93.23 607.94 91.54 C608.06 89.85 608.94 87.42 609.65 85.92 C610.35 84.42 611.28 83.37 612.17 82.54 C613.06 81.72 613.74 81.29 615 80.97Z" fill="#3034c4"/>
<path d="M620.5 82.2 C621.47 82.23 622.17 82.87 622.3 83.6 C622.43 84.33 622.27 85.45 621.3 86.6 C620.33 87.75 618.02 89.1 616.5 90.5 C614.98 91.9 613.35 94.22 612.2 95 C611.05 95.78 610.08 95.77 609.6 95.2 C609.12 94.63 608.9 92.97 609.3 91.6 C609.7 90.23 610.8 88.37 612 87 C613.2 85.63 615.08 84.2 616.5 83.4 C617.92 82.6 619.53 82.17 620.5 82.2Z" fill="#2898e0"/>
<path d="M619.22 83.8 C619.94 83.82 620.45 84.29 620.55 84.83 C620.65 85.38 620.53 86.2 619.81 87.05 C619.1 87.9 617.38 88.9 616.26 89.94 C615.14 90.98 613.93 92.69 613.08 93.27 C612.23 93.85 611.51 93.84 611.15 93.42 C610.8 93 610.64 91.76 610.93 90.75 C611.23 89.74 612.04 88.36 612.93 87.35 C613.82 86.34 615.21 85.28 616.26 84.69 C617.31 84.09 618.5 83.77 619.22 83.8Z" fill="#40c850"/>
<path d="M619.6 83.6 C620.23 83.63 620.87 84.17 620.6 84.8 C620.33 85.43 619.07 86.43 618 87.4 C616.93 88.37 615.13 90.13 614.2 90.6 C613.27 91.07 612.43 90.77 612.4 90.2 C612.37 89.63 613.27 88.13 614 87.2 C614.73 86.27 615.87 85.2 616.8 84.6 C617.73 84 618.97 83.57 619.6 83.6Z" fill="#f0e020"/>
<path d="M618.6 84.6 C619.07 84.53 619.53 85.03 619.3 85.5 C619.07 85.97 617.87 86.88 617.2 87.4 C616.53 87.92 615.7 88.53 615.3 88.6 C614.9 88.67 614.6 88.25 614.8 87.8 C615 87.35 615.87 86.43 616.5 85.9 C617.13 85.37 618.13 84.67 618.6 84.6Z" fill="#e8201a"/>
<ellipse cx="621" cy="93.7" rx="2.9" ry="2.6" fill="#2898e0"/>
<ellipse cx="621" cy="93.7" rx="1.7" ry="1.5" fill="#7ce6b8"/>
<path d="M692.25 85.5 C693.37 84.45 694.75 84.41 696 84.2 C697.25 83.99 698.08 83.83 699.75 84.25 C701.42 84.67 704.69 85.29 706 86.75 C707.31 88.21 707.81 90.92 707.6 93 C707.39 95.08 706.06 97.79 704.75 99.25 C703.44 100.71 701.21 101.69 699.75 101.75 C698.29 101.81 697.46 99.81 696 99.6 C694.54 99.39 692.27 100.97 691 100.5 C689.73 100.03 688.68 98.42 688.4 96.75 C688.12 95.08 688.66 92.38 689.3 90.5 C689.94 88.62 691.13 86.55 692.25 85.5Z" fill="#8a40b4" opacity="0.85"/>
<path d="M692.76 86.24 C693.76 85.3 695.01 85.26 696.13 85.07 C697.26 84.88 698.01 84.73 699.51 85.12 C701.01 85.5 703.96 86.05 705.13 87.37 C706.31 88.68 706.76 91.12 706.57 92.99 C706.39 94.87 705.19 97.3 704.01 98.62 C702.83 99.93 700.82 100.81 699.51 100.87 C698.2 100.92 697.45 99.12 696.13 98.93 C694.82 98.74 692.77 100.17 691.63 99.74 C690.49 99.31 689.55 97.87 689.29 96.37 C689.04 94.87 689.53 92.43 690.1 90.74 C690.68 89.05 691.75 87.19 692.76 86.24Z" fill="#3034c4"/>
<path d="M699.6 86.6 C700.43 86.53 701.43 87.17 701.6 88 C701.77 88.83 701.43 90.33 700.6 91.6 C699.77 92.87 697.93 94.57 696.6 95.6 C695.27 96.63 693.43 97.73 692.6 97.8 C691.77 97.87 691.37 96.97 691.6 96 C691.83 95.03 693.17 93.27 694 92 C694.83 90.73 695.67 89.3 696.6 88.4 C697.53 87.5 698.77 86.67 699.6 86.6Z" fill="#2898e0"/>
<path d="M699.4 88 C699.78 88 700.33 88.6 700.3 89.2 C700.27 89.8 699.68 90.97 699.2 91.6 C698.72 92.23 697.77 93.03 697.4 93 C697.03 92.97 696.9 92.03 697 91.4 C697.1 90.77 697.6 89.77 698 89.2 C698.4 88.63 699.02 88 699.4 88Z" fill="#58d890"/>
<path d="M731 83 C732.56 81.54 735.17 81.54 737.25 81.75 C739.33 81.96 741.81 82.79 743.5 84.25 C745.19 85.71 746.75 88.21 747.4 90.5 C748.05 92.79 748.26 95.83 747.4 98 C746.54 100.17 744.15 103.08 742.25 103.5 C740.35 103.92 738.08 101.62 736 100.5 C733.92 99.38 731.1 98.42 729.75 96.75 C728.4 95.08 727.69 92.79 727.9 90.5 C728.11 88.21 729.44 84.46 731 83Z" fill="#8a40b4" opacity="0.85"/>
<path d="M731.71 83.91 C733.11 82.6 735.46 82.6 737.33 82.78 C739.21 82.97 741.43 83.72 742.96 85.03 C744.48 86.35 745.88 88.6 746.46 90.66 C747.05 92.72 747.24 95.46 746.46 97.41 C745.69 99.36 743.54 101.98 741.83 102.36 C740.12 102.73 738.08 100.67 736.21 99.66 C734.33 98.65 731.8 97.78 730.58 96.28 C729.37 94.78 728.73 92.72 728.91 90.66 C729.1 88.6 730.3 85.22 731.71 83.91Z" fill="#3034c4"/>
<ellipse cx="735.5" cy="88.6" rx="2.8" ry="2.6" fill="#2898e0"/>
<ellipse cx="735.5" cy="88.6" rx="1.4" ry="1.3" fill="#60d870"/>
<ellipse cx="742.4" cy="94.3" rx="3" ry="3.4" fill="#2898e0"/>
<ellipse cx="742.4" cy="94.3" rx="1.7" ry="2" fill="#70d860"/>
</g>
<path d="M59 294 V466.5 H316.5" fill="none" stroke="#000" stroke-width="1.8"/>
<path d="M59 466.5 v5" stroke="#000" stroke-width="1.5"/>
<text x="59" y="483" text-anchor="middle" class="tk">0</text>
<path d="M110.3 466.5 v5" stroke="#000" stroke-width="1.5"/>
<text x="110.3" y="483" text-anchor="middle" class="tk">20</text>
<path d="M161.6 466.5 v5" stroke="#000" stroke-width="1.5"/>
<text x="161.6" y="483" text-anchor="middle" class="tk">40</text>
<path d="M212.9 466.5 v5" stroke="#000" stroke-width="1.5"/>
<text x="212.9" y="483" text-anchor="middle" class="tk">60</text>
<path d="M264.2 466.5 v5" stroke="#000" stroke-width="1.5"/>
<text x="264.2" y="483" text-anchor="middle" class="tk">80</text>
<path d="M315.5 466.5 v5" stroke="#000" stroke-width="1.5"/>
<text x="315.5" y="483" text-anchor="middle" class="tk">100</text>
<path d="M59 466.5 h-6" stroke="#000" stroke-width="1.4"/>
<text x="49.6" y="469" text-anchor="end" class="tk">0</text>
<path d="M59 388.62 h-6" stroke="#000" stroke-width="1.4"/>
<text x="49.6" y="391.12" text-anchor="end" class="tk">50</text>
<path d="M59 310.75 h-6" stroke="#000" stroke-width="1.4"/>
<text x="49.6" y="313.25" text-anchor="end" class="tk">100</text>
<path d="M136.46 310.75 H141.08 V336.71 H148.77 V362.66 H164.16 V388.62 H179.56 V414.59 H197.51 V440.54 H256.5 V466.5" fill="none" stroke="#e8141c" stroke-width="1.7" stroke-linejoin="miter"/>
<path d="M59 310.75 H135.95 V336.71 H138.51 V388.62 H141.08 V414.59 H146.21 V440.54 H148.77 V466.5" fill="none" stroke="#1f4fb4" stroke-width="1.7" stroke-linejoin="miter"/>
<path d="M163.2 327.3 H183 M173.1 327.3 v-3.2" stroke="#1f4fb4" stroke-width="1.5" fill="none"/>
<path d="M163.2 343.2 H183 M173.1 343.2 v-3.2" stroke="#e8141c" stroke-width="1.5" fill="none"/>
</svg>
<div class="abs" id="tab"></div>
<div class="abs" id="tabt">美迪西案例<span style="font-size:16.4px">: Cancer vaccines</span></div>
<div class="abs b" style="left:343.5px;top:37.9px;font-size:12.05px;">LLC1, IV, Lung Orthotopic</div>
<div class="abs" style="left:9.7px;top:112.84px;font-size:12px;">Group 1 Vehicle</div>
<div class="abs" style="left:9.7px;top:187.14px;font-size:12px;">Group 2 TA, 1x10<sup>13</sup> μg/kg,</div>
<div class="abs" style="left:9.7px;top:204.24px;font-size:12px;">IV, Q2D×10</div>
<div class="abs" style="left:240px;top:253.13px;font-size:11.9px;">Day 0</div>
<div class="abs" style="left:444.4px;top:253.13px;font-size:11.9px;">Day 14</div>
<div class="abs" style="left:645px;top:253.13px;font-size:11.9px;">Day 21</div>
<div class="abs b" style="left:57.6px;top:281.34px;font-size:12px;">Survival proportions: LLC1 Syngeneic Model</div>
<div class="abs" style="left:192.8px;top:321.44px;font-size:12px;color:#222;">Group 1 Vehicle</div>
<div class="abs" style="left:192.8px;top:337.24px;font-size:12px;color:#222;">Group 2 TA,&nbsp; 10 μg/kg, IV</div>
<div class="abs" style="left:135.8px;top:485.84px;font-size:12px;color:#222;">Days Post Inoculation</div>
<div class="abs" style="left:0;top:0;font-size:12px;color:#222;transform-origin:0 0;transform:translate(25px,426px) rotate(-90deg);">Percent survival</div>
<div class="dot" style="left:452.3px;top:305px;"></div>
<div class="dot" style="left:452.3px;top:353.9px;"></div>
<div class="dot" style="left:452.3px;top:403px;"></div>
<div class="dot" style="left:452.3px;top:452px;"></div>
<div class="abs b" style="left:474.3px;top:300.66px;font-size:13.4px;">Animals:</div>
<div class="abs" style="left:474.3px;top:317.26px;font-size:13.4px;">Female C57BL/6 mice</div>
<div class="abs b" style="left:474.3px;top:349.66px;font-size:13.4px;">Tumor Cells:</div>
<div class="abs" style="left:474.3px;top:365.96px;font-size:13.4px;">LLC1, 1x10<sup>5</sup>/mouse</div>
<div class="abs b" style="left:474.3px;top:398.66px;font-size:13.4px;">Model Establishment:</div>
<div class="abs" style="left:474.3px;top:414.96px;font-size:13.4px;">IV injection</div>
<div class="abs b" style="left:474.3px;top:447.46px;font-size:13.4px;">Treatment:</div>
<div class="abs b" style="left:474.3px;top:463.66px;font-size:13.4px;color:#24479f;">IV injection</div>
</body></html>
